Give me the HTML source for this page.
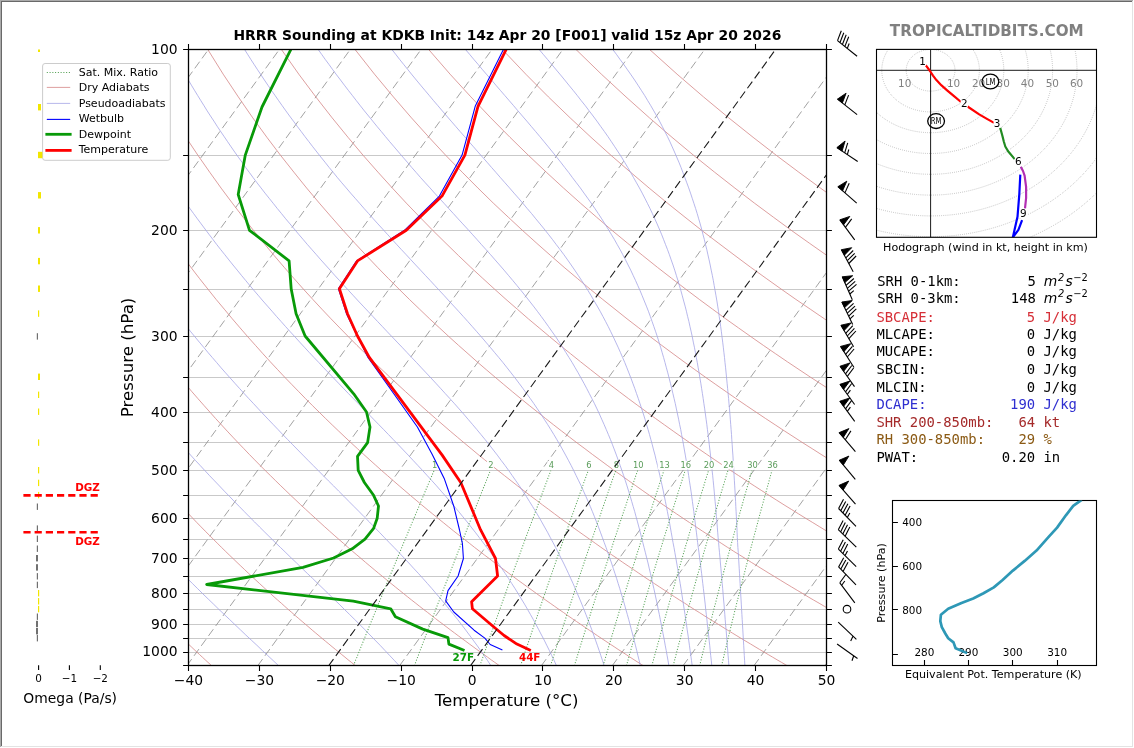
<!DOCTYPE html>
<html lang="en"><head><meta charset="utf-8"><title>HRRR Sounding at KDKB</title>
<style>html,body{margin:0;padding:0;background:#fff;}body{width:1134px;height:748px;overflow:hidden;}svg{display:block;will-change:transform;}text{font-family:"DejaVu Sans", "Liberation Sans", sans-serif;}.m{font-family:"DejaVu Sans Mono", "Liberation Mono", monospace;font-size:13.89px;}</style></head><body>
<svg width="1134" height="748" viewBox="0 0 1134 748">
<rect x="0" y="0" width="1134" height="748" fill="#ffffff"/>
<rect x="0" y="0" width="1133" height="1" fill="#aaaaaa"/>
<rect x="0" y="0" width="1" height="747" fill="#aaaaaa"/>
<rect x="1" y="1" width="1131" height="1" fill="#696969"/>
<rect x="1" y="1" width="1" height="745" fill="#696969"/>
<rect x="1132" y="1" width="1" height="746" fill="#e3e3e3"/>
<rect x="1" y="746" width="1132" height="1" fill="#e3e3e3"/>
<defs><clipPath id="cm"><rect x="188.5" y="49.5" width="638" height="616"/></clipPath>
<clipPath id="ct"><rect x="892.5" y="500.5" width="204" height="165"/></clipPath>
<clipPath id="ch"><rect x="876.5" y="49.4" width="220" height="187.9"/></clipPath>
<clipPath id="co"><rect x="20" y="49.4" width="100" height="615.4"/></clipPath>
</defs>
<g clip-path="url(#cm)" fill="none">
<line x1="188.5" y1="49.5" x2="826.5" y2="49.5" stroke="#c9c9c9" stroke-width="1"/>
<line x1="188.5" y1="155.5" x2="826.5" y2="155.5" stroke="#c9c9c9" stroke-width="1"/>
<line x1="188.5" y1="230.5" x2="826.5" y2="230.5" stroke="#c9c9c9" stroke-width="1"/>
<line x1="188.5" y1="289.5" x2="826.5" y2="289.5" stroke="#c9c9c9" stroke-width="1"/>
<line x1="188.5" y1="336.5" x2="826.5" y2="336.5" stroke="#c9c9c9" stroke-width="1"/>
<line x1="188.5" y1="377.5" x2="826.5" y2="377.5" stroke="#c9c9c9" stroke-width="1"/>
<line x1="188.5" y1="412.5" x2="826.5" y2="412.5" stroke="#c9c9c9" stroke-width="1"/>
<line x1="188.5" y1="442.5" x2="826.5" y2="442.5" stroke="#c9c9c9" stroke-width="1"/>
<line x1="188.5" y1="470.5" x2="826.5" y2="470.5" stroke="#c9c9c9" stroke-width="1"/>
<line x1="188.5" y1="495.5" x2="826.5" y2="495.5" stroke="#c9c9c9" stroke-width="1"/>
<line x1="188.5" y1="518.5" x2="826.5" y2="518.5" stroke="#c9c9c9" stroke-width="1"/>
<line x1="188.5" y1="539.5" x2="826.5" y2="539.5" stroke="#c9c9c9" stroke-width="1"/>
<line x1="188.5" y1="558.5" x2="826.5" y2="558.5" stroke="#c9c9c9" stroke-width="1"/>
<line x1="188.5" y1="576.5" x2="826.5" y2="576.5" stroke="#c9c9c9" stroke-width="1"/>
<line x1="188.5" y1="593.5" x2="826.5" y2="593.5" stroke="#c9c9c9" stroke-width="1"/>
<line x1="188.5" y1="609.5" x2="826.5" y2="609.5" stroke="#c9c9c9" stroke-width="1"/>
<line x1="188.5" y1="624.5" x2="826.5" y2="624.5" stroke="#c9c9c9" stroke-width="1"/>
<line x1="188.5" y1="638.5" x2="826.5" y2="638.5" stroke="#c9c9c9" stroke-width="1"/>
<line x1="188.5" y1="652.5" x2="826.5" y2="652.5" stroke="#c9c9c9" stroke-width="1"/>
<line x1="-593" y1="665.8" x2="-145.1" y2="48.2" stroke="#8a8a8a" stroke-width="0.8" stroke-dasharray="8.3 4"/>
<line x1="-522.1" y1="665.8" x2="-74.2" y2="48.2" stroke="#8a8a8a" stroke-width="0.8" stroke-dasharray="8.3 4"/>
<line x1="-451.2" y1="665.8" x2="-3.3" y2="48.2" stroke="#8a8a8a" stroke-width="0.8" stroke-dasharray="8.3 4"/>
<line x1="-380.3" y1="665.8" x2="67.6" y2="48.2" stroke="#8a8a8a" stroke-width="0.8" stroke-dasharray="8.3 4"/>
<line x1="-309.4" y1="665.8" x2="138.5" y2="48.2" stroke="#8a8a8a" stroke-width="0.8" stroke-dasharray="8.3 4"/>
<line x1="-238.5" y1="665.8" x2="209.4" y2="48.2" stroke="#8a8a8a" stroke-width="0.8" stroke-dasharray="8.3 4"/>
<line x1="-167.6" y1="665.8" x2="280.3" y2="48.2" stroke="#8a8a8a" stroke-width="0.8" stroke-dasharray="8.3 4"/>
<line x1="-96.7" y1="665.8" x2="351.2" y2="48.2" stroke="#8a8a8a" stroke-width="0.8" stroke-dasharray="8.3 4"/>
<line x1="-25.8" y1="665.8" x2="422" y2="48.2" stroke="#8a8a8a" stroke-width="0.8" stroke-dasharray="8.3 4"/>
<line x1="45" y1="665.8" x2="492.9" y2="48.2" stroke="#8a8a8a" stroke-width="0.8" stroke-dasharray="8.3 4"/>
<line x1="115.9" y1="665.8" x2="563.8" y2="48.2" stroke="#8a8a8a" stroke-width="0.8" stroke-dasharray="8.3 4"/>
<line x1="186.8" y1="665.8" x2="634.7" y2="48.2" stroke="#8a8a8a" stroke-width="0.8" stroke-dasharray="8.3 4"/>
<line x1="257.7" y1="665.8" x2="705.6" y2="48.2" stroke="#8a8a8a" stroke-width="0.8" stroke-dasharray="8.3 4"/>
<line x1="399.5" y1="665.8" x2="847.4" y2="48.2" stroke="#8a8a8a" stroke-width="0.8" stroke-dasharray="8.3 4"/>
<line x1="541.3" y1="665.8" x2="989.2" y2="48.2" stroke="#8a8a8a" stroke-width="0.8" stroke-dasharray="8.3 4"/>
<line x1="612.2" y1="665.8" x2="1060" y2="48.2" stroke="#8a8a8a" stroke-width="0.8" stroke-dasharray="8.3 4"/>
<line x1="683" y1="665.8" x2="1130.9" y2="48.2" stroke="#8a8a8a" stroke-width="0.8" stroke-dasharray="8.3 4"/>
<line x1="753.9" y1="665.8" x2="1201.8" y2="48.2" stroke="#8a8a8a" stroke-width="0.8" stroke-dasharray="8.3 4"/>
<line x1="824.8" y1="665.8" x2="1272.7" y2="48.2" stroke="#8a8a8a" stroke-width="0.8" stroke-dasharray="8.3 4"/>
<path d="M211.8 665.8 L210.7 664.8 L207.9 662.3 L205.2 659.8 L202.4 657.2 L199.6 654.6 L196.8 652 L194 649.4 L191.2 646.7 L188.3 644 L185.5 641.3 L182.6 638.6 L179.7 635.8 L176.8 633 L173.9 630.2 L171 627.3 L168 624.4 L165 621.5 L162 618.6 L159 615.6 L156 612.5 L153 609.5 L149.9 606.4 L146.8 603.2 L143.7 600.1 L140.6 596.9 L137.5 593.6 L134.3 590.3 L131.2 587 L128 583.6 L124.7 580.2 L121.5 576.7 L118.3 573.2 L115 569.6 L111.7 566 L108.3 562.4 L105 558.6 L101.6 554.9 L98.2 551.1 L94.8 547.2 L91.4 543.2 L87.9 539.2 L84.4 535.2 L80.9 531.1 L77.3 526.9 L73.8 522.6 L70.2 518.3 L66.5 513.9 L62.9 509.4 L59.2 504.9 L55.5 500.2 L51.7 495.5 L48 490.7 L44.1 485.8 L40.3 480.8 L36.4 475.7 L32.5 470.6 L28.6 465.3 L24.6 459.9 L20.6 454.4 L16.5 448.7 L12.4 443 L8.3 437.1 L4.1 431.1 L-0.1 424.9 L-4.3 418.6 L-8.6 412.1 L-12.9 405.5 L-17.3 398.7 L-21.7 391.7 L-26.2 384.5 L-30.7 377.2 L-35.3 369.6 L-39.9 361.8 L-44.6 353.7 L-49.3 345.4 L-54.1 336.8 L-58.9 327.9 L-63.8 318.8 L-68.7 309.2 L-73.7 299.4 L-78.8 289.1 L-83.9 278.4 L-89.1 267.3 L-94.3 255.6 L-99.6 243.4 L-105 230.7 L-110.4 217.2 L-115.9 203.1 L-121.4 188.1 L-126.9 172.2 L-132.5 155.4 L-138.2 137.3 L-143.8 117.9 L-149.4 96.9 L-155 74.2 L-160.5 49.2 L-160.8 47.9" stroke="#d48686" stroke-width="0.8"/>
<path d="M355.7 665.8 L354.4 664.8 L351.3 662.3 L348.1 659.8 L345 657.2 L341.8 654.6 L338.6 652 L335.4 649.4 L332.1 646.7 L328.9 644 L325.6 641.3 L322.3 638.6 L319 635.8 L315.7 633 L312.3 630.2 L309 627.3 L305.6 624.4 L302.2 621.5 L298.8 618.6 L295.3 615.6 L291.8 612.5 L288.3 609.5 L284.8 606.4 L281.3 603.2 L277.7 600.1 L274.1 596.9 L270.5 593.6 L266.9 590.3 L263.3 587 L259.6 583.6 L255.9 580.2 L252.1 576.7 L248.4 573.2 L244.6 569.6 L240.8 566 L237 562.4 L233.1 558.6 L229.2 554.9 L225.3 551.1 L221.3 547.2 L217.3 543.2 L213.3 539.2 L209.3 535.2 L205.2 531.1 L201.1 526.9 L196.9 522.6 L192.8 518.3 L188.6 513.9 L184.3 509.4 L180 504.9 L175.7 500.2 L171.3 495.5 L166.9 490.7 L162.5 485.8 L158 480.8 L153.5 475.7 L148.9 470.6 L144.3 465.3 L139.7 459.9 L134.9 454.4 L130.2 448.7 L125.4 443 L120.6 437.1 L115.7 431.1 L110.7 424.9 L105.7 418.6 L100.6 412.1 L95.5 405.5 L90.3 398.7 L85.1 391.7 L79.8 384.5 L74.4 377.2 L69 369.6 L63.5 361.8 L57.9 353.7 L52.3 345.4 L46.6 336.8 L40.8 327.9 L34.9 318.8 L28.9 309.2 L22.9 299.4 L16.8 289.1 L10.5 278.4 L4.2 267.3 L-2.2 255.6 L-8.7 243.4 L-15.3 230.7 L-22 217.2 L-28.8 203.1 L-35.8 188.1 L-42.8 172.2 L-49.9 155.4 L-57.2 137.3 L-64.5 117.9 L-71.9 96.9 L-79.4 74.2 L-86.9 49.2 L-87.3 47.9" stroke="#d48686" stroke-width="0.8"/>
<path d="M499.6 665.8 L498.2 664.8 L494.7 662.3 L491.1 659.8 L487.6 657.2 L484 654.6 L480.4 652 L476.8 649.4 L473.1 646.7 L469.4 644 L465.8 641.3 L462.1 638.6 L458.3 635.8 L454.6 633 L450.8 630.2 L447 627.3 L443.2 624.4 L439.3 621.5 L435.5 618.6 L431.6 615.6 L427.7 612.5 L423.7 609.5 L419.7 606.4 L415.7 603.2 L411.7 600.1 L407.7 596.9 L403.6 593.6 L399.5 590.3 L395.4 587 L391.2 583.6 L387 580.2 L382.8 576.7 L378.5 573.2 L374.2 569.6 L369.9 566 L365.6 562.4 L361.2 558.6 L356.8 554.9 L352.3 551.1 L347.8 547.2 L343.3 543.2 L338.7 539.2 L334.1 535.2 L329.5 531.1 L324.8 526.9 L320.1 522.6 L315.4 518.3 L310.6 513.9 L305.7 509.4 L300.8 504.9 L295.9 500.2 L290.9 495.5 L285.9 490.7 L280.8 485.8 L275.7 480.8 L270.5 475.7 L265.3 470.6 L260 465.3 L254.7 459.9 L249.3 454.4 L243.9 448.7 L238.4 443 L232.8 437.1 L227.2 431.1 L221.5 424.9 L215.7 418.6 L209.9 412.1 L204 405.5 L198 398.7 L191.9 391.7 L185.8 384.5 L179.6 377.2 L173.3 369.6 L166.9 361.8 L160.4 353.7 L153.9 345.4 L147.2 336.8 L140.4 327.9 L133.6 318.8 L126.6 309.2 L119.5 299.4 L112.3 289.1 L105 278.4 L97.5 267.3 L90 255.6 L82.2 243.4 L74.4 230.7 L66.4 217.2 L58.2 203.1 L49.9 188.1 L41.4 172.2 L32.7 155.4 L23.9 137.3 L14.8 117.9 L5.6 96.9 L-3.7 74.2 L-13.3 49.2 L-13.8 47.9" stroke="#d48686" stroke-width="0.8"/>
<path d="M643.5 665.8 L641.9 664.8 L638 662.3 L634.1 659.8 L630.1 657.2 L626.2 654.6 L622.2 652 L618.1 649.4 L614.1 646.7 L610 644 L605.9 641.3 L601.8 638.6 L597.6 635.8 L593.5 633 L589.3 630.2 L585 627.3 L580.8 624.4 L576.5 621.5 L572.2 618.6 L567.8 615.6 L563.5 612.5 L559.1 609.5 L554.7 606.4 L550.2 603.2 L545.7 600.1 L541.2 596.9 L536.6 593.6 L532.1 590.3 L527.5 587 L522.8 583.6 L518.1 580.2 L513.4 576.7 L508.7 573.2 L503.9 569.6 L499 566 L494.2 562.4 L489.3 558.6 L484.3 554.9 L479.4 551.1 L474.3 547.2 L469.3 543.2 L464.2 539.2 L459 535.2 L453.8 531.1 L448.6 526.9 L443.3 522.6 L438 518.3 L432.6 513.9 L427.1 509.4 L421.7 504.9 L416.1 500.2 L410.5 495.5 L404.9 490.7 L399.2 485.8 L393.4 480.8 L387.6 475.7 L381.7 470.6 L375.8 465.3 L369.8 459.9 L363.7 454.4 L357.5 448.7 L351.3 443 L345 437.1 L338.7 431.1 L332.2 424.9 L325.7 418.6 L319.1 412.1 L312.4 405.5 L305.6 398.7 L298.8 391.7 L291.8 384.5 L284.7 377.2 L277.6 369.6 L270.3 361.8 L262.9 353.7 L255.5 345.4 L247.8 336.8 L240.1 327.9 L232.3 318.8 L224.3 309.2 L216.1 299.4 L207.9 289.1 L199.4 278.4 L190.9 267.3 L182.1 255.6 L173.2 243.4 L164.1 230.7 L154.7 217.2 L145.2 203.1 L135.5 188.1 L125.5 172.2 L115.3 155.4 L104.9 137.3 L94.2 117.9 L83.2 96.9 L71.9 74.2 L60.3 49.2 L59.7 47.9" stroke="#d48686" stroke-width="0.8"/>
<path d="M787.4 665.8 L785.7 664.8 L781.4 662.3 L777.1 659.8 L772.7 657.2 L768.3 654.6 L763.9 652 L759.5 649.4 L755 646.7 L750.6 644 L746 641.3 L741.5 638.6 L736.9 635.8 L732.3 633 L727.7 630.2 L723 627.3 L718.4 624.4 L713.6 621.5 L708.9 618.6 L704.1 615.6 L699.3 612.5 L694.4 609.5 L689.6 606.4 L684.7 603.2 L679.7 600.1 L674.7 596.9 L669.7 593.6 L664.6 590.3 L659.6 587 L654.4 583.6 L649.2 580.2 L644 576.7 L638.8 573.2 L633.5 569.6 L628.2 566 L622.8 562.4 L617.4 558.6 L611.9 554.9 L606.4 551.1 L600.8 547.2 L595.2 543.2 L589.6 539.2 L583.9 535.2 L578.1 531.1 L572.3 526.9 L566.5 522.6 L560.5 518.3 L554.6 513.9 L548.6 509.4 L542.5 504.9 L536.3 500.2 L530.1 495.5 L523.8 490.7 L517.5 485.8 L511.1 480.8 L504.6 475.7 L498.1 470.6 L491.5 465.3 L484.8 459.9 L478 454.4 L471.2 448.7 L464.3 443 L457.3 437.1 L450.2 431.1 L443 424.9 L435.7 418.6 L428.3 412.1 L420.9 405.5 L413.3 398.7 L405.6 391.7 L397.8 384.5 L389.9 377.2 L381.9 369.6 L373.7 361.8 L365.5 353.7 L357 345.4 L348.5 336.8 L339.8 327.9 L331 318.8 L321.9 309.2 L312.8 299.4 L303.4 289.1 L293.9 278.4 L284.2 267.3 L274.2 255.6 L264.1 243.4 L253.7 230.7 L243.1 217.2 L232.3 203.1 L221.1 188.1 L209.7 172.2 L198 155.4 L185.9 137.3 L173.5 117.9 L160.7 96.9 L147.5 74.2 L133.9 49.2 L133.3 47.9" stroke="#d48686" stroke-width="0.8"/>
<path d="M931.3 665.8 L929.5 664.8 L924.8 662.3 L920 659.8 L915.3 657.2 L910.5 654.6 L905.7 652 L900.9 649.4 L896 646.7 L891.1 644 L886.2 641.3 L881.2 638.6 L876.2 635.8 L871.2 633 L866.2 630.2 L861.1 627.3 L855.9 624.4 L850.8 621.5 L845.6 618.6 L840.4 615.6 L835.1 612.5 L829.8 609.5 L824.5 606.4 L819.1 603.2 L813.7 600.1 L808.2 596.9 L802.8 593.6 L797.2 590.3 L791.7 587 L786 583.6 L780.4 580.2 L774.7 576.7 L768.9 573.2 L763.1 569.6 L757.3 566 L751.4 562.4 L745.5 558.6 L739.5 554.9 L733.4 551.1 L727.3 547.2 L721.2 543.2 L715 539.2 L708.7 535.2 L702.4 531.1 L696.1 526.9 L689.6 522.6 L683.1 518.3 L676.6 513.9 L670 509.4 L663.3 504.9 L656.5 500.2 L649.7 495.5 L642.8 490.7 L635.9 485.8 L628.8 480.8 L621.7 475.7 L614.5 470.6 L607.2 465.3 L599.9 459.9 L592.4 454.4 L584.9 448.7 L577.2 443 L569.5 437.1 L561.7 431.1 L553.7 424.9 L545.7 418.6 L537.6 412.1 L529.3 405.5 L520.9 398.7 L512.4 391.7 L503.8 384.5 L495.1 377.2 L486.2 369.6 L477.1 361.8 L468 353.7 L458.6 345.4 L449.1 336.8 L439.5 327.9 L429.6 318.8 L419.6 309.2 L409.4 299.4 L399 289.1 L388.3 278.4 L377.5 267.3 L366.4 255.6 L355 243.4 L343.4 230.7 L331.5 217.2 L319.3 203.1 L306.7 188.1 L293.9 172.2 L280.6 155.4 L266.9 137.3 L252.8 117.9 L238.3 96.9 L223.2 74.2 L207.6 49.2 L206.8 47.9" stroke="#d48686" stroke-width="0.8"/>
<path d="M1075.3 665.8 L1073.2 664.8 L1068.1 662.3 L1063 659.8 L1057.9 657.2 L1052.7 654.6 L1047.5 652 L1042.2 649.4 L1037 646.7 L1031.7 644 L1026.3 641.3 L1020.9 638.6 L1015.5 635.8 L1010.1 633 L1004.6 630.2 L999.1 627.3 L993.5 624.4 L987.9 621.5 L982.3 618.6 L976.6 615.6 L970.9 612.5 L965.2 609.5 L959.4 606.4 L953.6 603.2 L947.7 600.1 L941.8 596.9 L935.8 593.6 L929.8 590.3 L923.7 587 L917.6 583.6 L911.5 580.2 L905.3 576.7 L899.1 573.2 L892.8 569.6 L886.4 566 L880 562.4 L873.6 558.6 L867 554.9 L860.5 551.1 L853.8 547.2 L847.2 543.2 L840.4 539.2 L833.6 535.2 L826.7 531.1 L819.8 526.9 L812.8 522.6 L805.7 518.3 L798.6 513.9 L791.4 509.4 L784.1 504.9 L776.7 500.2 L769.3 495.5 L761.8 490.7 L754.2 485.8 L746.5 480.8 L738.7 475.7 L730.9 470.6 L722.9 465.3 L714.9 459.9 L706.8 454.4 L698.5 448.7 L690.2 443 L681.7 437.1 L673.2 431.1 L664.5 424.9 L655.7 418.6 L646.8 412.1 L637.8 405.5 L628.6 398.7 L619.3 391.7 L609.8 384.5 L600.2 377.2 L590.5 369.6 L580.6 361.8 L570.5 353.7 L560.2 345.4 L549.8 336.8 L539.2 327.9 L528.3 318.8 L517.3 309.2 L506 299.4 L494.5 289.1 L482.8 278.4 L470.8 267.3 L458.5 255.6 L446 243.4 L433.1 230.7 L419.9 217.2 L406.3 203.1 L392.4 188.1 L378 172.2 L363.2 155.4 L348 137.3 L332.2 117.9 L315.8 96.9 L298.8 74.2 L281.2 49.2 L280.3 47.9" stroke="#d48686" stroke-width="0.8"/>
<path d="M1219.2 665.8 L1217 664.8 L1211.5 662.3 L1206 659.8 L1200.5 657.2 L1194.9 654.6 L1189.3 652 L1183.6 649.4 L1177.9 646.7 L1172.2 644 L1166.5 641.3 L1160.7 638.6 L1154.8 635.8 L1149 633 L1143.1 630.2 L1137.1 627.3 L1131.1 624.4 L1125.1 621.5 L1119 618.6 L1112.9 615.6 L1106.8 612.5 L1100.6 609.5 L1094.3 606.4 L1088 603.2 L1081.7 600.1 L1075.3 596.9 L1068.9 593.6 L1062.4 590.3 L1055.8 587 L1049.3 583.6 L1042.6 580.2 L1035.9 576.7 L1029.2 573.2 L1022.4 569.6 L1015.5 566 L1008.6 562.4 L1001.6 558.6 L994.6 554.9 L987.5 551.1 L980.4 547.2 L973.1 543.2 L965.8 539.2 L958.5 535.2 L951.1 531.1 L943.6 526.9 L936 522.6 L928.3 518.3 L920.6 513.9 L912.8 509.4 L904.9 504.9 L897 500.2 L888.9 495.5 L880.8 490.7 L872.5 485.8 L864.2 480.8 L855.8 475.7 L847.3 470.6 L838.7 465.3 L830 459.9 L821.1 454.4 L812.2 448.7 L803.1 443 L794 437.1 L784.7 431.1 L775.3 424.9 L765.7 418.6 L756 412.1 L746.2 405.5 L736.2 398.7 L726.1 391.7 L715.8 384.5 L705.4 377.2 L694.8 369.6 L684 361.8 L673 353.7 L661.8 345.4 L650.4 336.8 L638.8 327.9 L627 318.8 L615 309.2 L602.7 299.4 L590.1 289.1 L577.3 278.4 L564.1 267.3 L550.7 255.6 L536.9 243.4 L522.8 230.7 L508.3 217.2 L493.3 203.1 L478 188.1 L462.2 172.2 L445.8 155.4 L429 137.3 L411.5 117.9 L393.4 96.9 L374.5 74.2 L354.8 49.2 L353.8 47.9" stroke="#d48686" stroke-width="0.8"/>
<path d="M1363.1 665.8 L1360.7 664.8 L1354.9 662.3 L1349 659.8 L1343 657.2 L1337.1 654.6 L1331 652 L1325 649.4 L1318.9 646.7 L1312.8 644 L1306.6 641.3 L1300.4 638.6 L1294.1 635.8 L1287.8 633 L1281.5 630.2 L1275.1 627.3 L1268.7 624.4 L1262.3 621.5 L1255.7 618.6 L1249.2 615.6 L1242.6 612.5 L1235.9 609.5 L1229.2 606.4 L1222.5 603.2 L1215.7 600.1 L1208.8 596.9 L1201.9 593.6 L1195 590.3 L1187.9 587 L1180.9 583.6 L1173.8 580.2 L1166.6 576.7 L1159.3 573.2 L1152 569.6 L1144.7 566 L1137.2 562.4 L1129.7 558.6 L1122.2 554.9 L1114.6 551.1 L1106.9 547.2 L1099.1 543.2 L1091.3 539.2 L1083.3 535.2 L1075.4 531.1 L1067.3 526.9 L1059.2 522.6 L1050.9 518.3 L1042.6 513.9 L1034.2 509.4 L1025.7 504.9 L1017.2 500.2 L1008.5 495.5 L999.7 490.7 L990.9 485.8 L981.9 480.8 L972.9 475.7 L963.7 470.6 L954.4 465.3 L945 459.9 L935.5 454.4 L925.9 448.7 L916.1 443 L906.2 437.1 L896.2 431.1 L886 424.9 L875.7 418.6 L865.3 412.1 L854.7 405.5 L843.9 398.7 L832.9 391.7 L821.8 384.5 L810.5 377.2 L799.1 369.6 L787.4 361.8 L775.5 353.7 L763.4 345.4 L751.1 336.8 L738.5 327.9 L725.7 318.8 L712.6 309.2 L699.3 299.4 L685.7 289.1 L671.7 278.4 L657.4 267.3 L642.8 255.6 L627.8 243.4 L612.4 230.7 L596.6 217.2 L580.4 203.1 L563.6 188.1 L546.3 172.2 L528.5 155.4 L510 137.3 L490.8 117.9 L470.9 96.9 L450.1 74.2 L428.4 49.2 L427.3 47.9" stroke="#d48686" stroke-width="0.8"/>
<path d="M1507 665.8 L1504.5 664.8 L1498.2 662.3 L1492 659.8 L1485.6 657.2 L1479.2 654.6 L1472.8 652 L1466.4 649.4 L1459.9 646.7 L1453.3 644 L1446.7 641.3 L1440.1 638.6 L1433.4 635.8 L1426.7 633 L1420 630.2 L1413.2 627.3 L1406.3 624.4 L1399.4 621.5 L1392.5 618.6 L1385.5 615.6 L1378.4 612.5 L1371.3 609.5 L1364.1 606.4 L1356.9 603.2 L1349.7 600.1 L1342.3 596.9 L1335 593.6 L1327.5 590.3 L1320 587 L1312.5 583.6 L1304.9 580.2 L1297.2 576.7 L1289.5 573.2 L1281.7 569.6 L1273.8 566 L1265.8 562.4 L1257.8 558.6 L1249.7 554.9 L1241.6 551.1 L1233.4 547.2 L1225.1 543.2 L1216.7 539.2 L1208.2 535.2 L1199.7 531.1 L1191 526.9 L1182.3 522.6 L1173.5 518.3 L1164.6 513.9 L1155.6 509.4 L1146.6 504.9 L1137.4 500.2 L1128.1 495.5 L1118.7 490.7 L1109.2 485.8 L1099.6 480.8 L1089.9 475.7 L1080.1 470.6 L1070.1 465.3 L1060.1 459.9 L1049.9 454.4 L1039.5 448.7 L1029.1 443 L1018.4 437.1 L1007.7 431.1 L996.8 424.9 L985.7 418.6 L974.5 412.1 L963.1 405.5 L951.5 398.7 L939.8 391.7 L927.8 384.5 L915.7 377.2 L903.4 369.6 L890.8 361.8 L878 353.7 L865 345.4 L851.7 336.8 L838.2 327.9 L824.4 318.8 L810.3 309.2 L795.9 299.4 L781.2 289.1 L766.2 278.4 L750.7 267.3 L735 255.6 L718.8 243.4 L702.1 230.7 L685 217.2 L667.4 203.1 L649.2 188.1 L630.5 172.2 L611.1 155.4 L591 137.3 L570.2 117.9 L548.4 96.9 L525.8 74.2 L502.1 49.2 L500.8 47.9" stroke="#d48686" stroke-width="0.8"/>
<path d="M1650.9 665.8 L1648.3 664.8 L1641.6 662.3 L1634.9 659.8 L1628.2 657.2 L1621.4 654.6 L1614.6 652 L1607.7 649.4 L1600.8 646.7 L1593.9 644 L1586.9 641.3 L1579.8 638.6 L1572.7 635.8 L1565.6 633 L1558.4 630.2 L1551.2 627.3 L1543.9 624.4 L1536.6 621.5 L1529.2 618.6 L1521.7 615.6 L1514.2 612.5 L1506.7 609.5 L1499.1 606.4 L1491.4 603.2 L1483.7 600.1 L1475.9 596.9 L1468 593.6 L1460.1 590.3 L1452.1 587 L1444.1 583.6 L1436 580.2 L1427.8 576.7 L1419.6 573.2 L1411.3 569.6 L1402.9 566 L1394.5 562.4 L1385.9 558.6 L1377.3 554.9 L1368.6 551.1 L1359.9 547.2 L1351 543.2 L1342.1 539.2 L1333.1 535.2 L1324 531.1 L1314.8 526.9 L1305.5 522.6 L1296.1 518.3 L1286.6 513.9 L1277.1 509.4 L1267.4 504.9 L1257.6 500.2 L1247.7 495.5 L1237.7 490.7 L1227.6 485.8 L1217.3 480.8 L1207 475.7 L1196.5 470.6 L1185.9 465.3 L1175.1 459.9 L1164.2 454.4 L1153.2 448.7 L1142 443 L1130.7 437.1 L1119.2 431.1 L1107.5 424.9 L1095.7 418.6 L1083.7 412.1 L1071.5 405.5 L1059.2 398.7 L1046.6 391.7 L1033.8 384.5 L1020.9 377.2 L1007.7 369.6 L994.2 361.8 L980.5 353.7 L966.6 345.4 L952.4 336.8 L937.9 327.9 L923.1 318.8 L908 309.2 L892.6 299.4 L876.8 289.1 L860.6 278.4 L844.1 267.3 L827.1 255.6 L809.7 243.4 L791.8 230.7 L773.4 217.2 L754.4 203.1 L734.9 188.1 L714.6 172.2 L693.7 155.4 L672 137.3 L649.5 117.9 L626 96.9 L601.4 74.2 L575.7 49.2 L574.4 47.9" stroke="#d48686" stroke-width="0.8"/>
<path d="M1794.8 665.8 L1792 664.8 L1785 662.3 L1777.9 659.8 L1770.8 657.2 L1763.6 654.6 L1756.4 652 L1749.1 649.4 L1741.8 646.7 L1734.4 644 L1727 641.3 L1719.6 638.6 L1712.1 635.8 L1704.5 633 L1696.9 630.2 L1689.2 627.3 L1681.5 624.4 L1673.7 621.5 L1665.9 618.6 L1658 615.6 L1650 612.5 L1642 609.5 L1634 606.4 L1625.8 603.2 L1617.7 600.1 L1609.4 596.9 L1601.1 593.6 L1592.7 590.3 L1584.2 587 L1575.7 583.6 L1567.1 580.2 L1558.5 576.7 L1549.7 573.2 L1540.9 569.6 L1532 566 L1523.1 562.4 L1514 558.6 L1504.9 554.9 L1495.7 551.1 L1486.4 547.2 L1477 543.2 L1467.5 539.2 L1457.9 535.2 L1448.3 531.1 L1438.5 526.9 L1428.7 522.6 L1418.7 518.3 L1408.6 513.9 L1398.5 509.4 L1388.2 504.9 L1377.8 500.2 L1367.3 495.5 L1356.7 490.7 L1345.9 485.8 L1335 480.8 L1324 475.7 L1312.9 470.6 L1301.6 465.3 L1290.2 459.9 L1278.6 454.4 L1266.9 448.7 L1255 443 L1242.9 437.1 L1230.7 431.1 L1218.3 424.9 L1205.7 418.6 L1193 412.1 L1180 405.5 L1166.8 398.7 L1153.5 391.7 L1139.9 384.5 L1126 377.2 L1111.9 369.6 L1097.6 361.8 L1083 353.7 L1068.2 345.4 L1053 336.8 L1037.6 327.9 L1021.8 318.8 L1005.7 309.2 L989.2 299.4 L972.3 289.1 L955.1 278.4 L937.4 267.3 L919.2 255.6 L900.6 243.4 L881.5 230.7 L861.8 217.2 L841.4 203.1 L820.5 188.1 L798.8 172.2 L776.4 155.4 L753.1 137.3 L728.8 117.9 L703.5 96.9 L677.1 74.2 L649.3 49.2 L647.9 47.9" stroke="#d48686" stroke-width="0.8"/>
<path d="M-123.7 49.2 L-122.5 54.3 L-121.3 59.5 L-120.1 64.6 L-118.8 69.8 L-117.5 74.9 L-116.2 80 L-114.9 85.2 L-113.5 90.3 L-112.1 95.4 L-110.6 100.6 L-109.2 105.7 L-107.7 110.9 L-106.1 116 L-104.6 121.1 L-103 126.3 L-101.4 131.4 L-99.7 136.5 L-98 141.7 L-96.3 146.8 L-94.6 152 L-92.8 157.1 L-91 162.2 L-89.2 167.4 L-87.3 172.5 L-85.4 177.7 L-83.4 182.8 L-81.3 187.9 L-79.2 193.1 L-77.1 198.2 L-74.9 203.3 L-72.7 208.5 L-70.4 213.6 L-68.2 218.8 L-65.9 223.9 L-63.5 229 L-61.1 234.2 L-58.7 239.3 L-56.3 244.5 L-53.8 249.6 L-51.3 254.7 L-48.7 259.9 L-46.1 265 L-43.5 270.1 L-40.9 275.3 L-38.2 280.4 L-35.5 285.6 L-32.7 290.7 L-29.9 295.8 L-27.1 301 L-24.2 306.1 L-21.3 311.2 L-18.3 316.4 L-15.3 321.5 L-12.3 326.7 L-9.3 331.8 L-6.2 336.9 L-3 342.1 L0.2 347.2 L3.4 352.4 L6.6 357.5 L9.9 362.6 L13.2 367.8 L16.6 372.9 L20 378 L23.5 383.2 L27 388.3 L30.6 393.5 L34.2 398.6 L37.8 403.7 L41.5 408.9 L45.2 414 L49 419.2 L52.8 424.3 L56.6 429.4 L60.5 434.6 L64.5 439.7 L68.4 444.8 L72.5 450 L76.5 455.1 L80.6 460.3 L84.8 465.4 L88.9 470.5 L93.2 475.7 L97.4 480.8 L101.8 485.9 L106.1 491.1 L110.5 496.2 L115 501.4 L119.4 506.5 L124 511.6 L128.5 516.8 L133.2 521.9 L137.8 527.1 L142.5 532.2 L147.3 537.3 L152.1 542.5 L157 547.6 L162 552.7 L166.9 557.9 L172 563 L177 568.2 L182.1 573.3 L187.3 578.4 L192.5 583.6 L197.7 588.7 L202.9 593.9 L208.2 599 L213.5 604.1 L218.8 609.3 L224.2 614.4 L229.6 619.5 L235 624.7 L240.4 629.8 L245.8 635 L251.3 640.1 L256.8 645.2 L262.2 650.4 L267.7 655.5 L273.2 660.6 L278.7 665.8" stroke="#a4a4e6" stroke-width="0.8"/>
<path d="M-50.1 49.2 L-48.5 54.3 L-46.9 59.5 L-45.2 64.6 L-43.6 69.8 L-41.8 74.9 L-40.1 80 L-38.3 85.2 L-36.5 90.3 L-34.7 95.4 L-32.8 100.6 L-30.9 105.7 L-28.9 110.9 L-27 116 L-25 121.1 L-22.9 126.3 L-20.9 131.4 L-18.8 136.5 L-16.6 141.7 L-14.5 146.8 L-12.3 152 L-10 157.1 L-7.8 162.2 L-5.5 167.4 L-3.1 172.5 L-0.7 177.7 L1.7 182.8 L4.3 187.9 L6.9 193.1 L9.5 198.2 L12.2 203.3 L14.9 208.5 L17.6 213.6 L20.4 218.8 L23.2 223.9 L26 229 L28.9 234.2 L31.8 239.3 L34.8 244.5 L37.7 249.6 L40.8 254.7 L43.8 259.9 L46.9 265 L50.1 270.1 L53.3 275.3 L56.5 280.4 L59.7 285.6 L63 290.7 L66.4 295.8 L69.7 301 L73.2 306.1 L76.6 311.2 L80.1 316.4 L83.6 321.5 L87.2 326.7 L90.8 331.8 L94.5 336.9 L98.2 342.1 L101.9 347.2 L105.7 352.4 L109.5 357.5 L113.4 362.6 L117.3 367.8 L121.3 372.9 L125.2 378 L129.3 383.2 L133.4 388.3 L137.6 393.5 L141.7 398.6 L146 403.7 L150.3 408.9 L154.6 414 L158.9 419.2 L163.3 424.3 L167.8 429.4 L172.3 434.6 L176.8 439.7 L181.4 444.8 L186 450 L190.6 455.1 L195.3 460.3 L200.1 465.4 L204.8 470.5 L209.6 475.7 L214.5 480.8 L219.4 485.9 L224.3 491.1 L229.3 496.2 L234.3 501.4 L239.3 506.5 L244.3 511.6 L249.4 516.8 L254.5 521.9 L259.7 527.1 L264.8 532.2 L270 537.3 L275.3 542.5 L280.6 547.6 L285.9 552.7 L291.2 557.9 L296.6 563 L301.9 568.2 L307.2 573.3 L312.6 578.4 L317.9 583.6 L323.2 588.7 L328.5 593.9 L333.8 599 L339.1 604.1 L344.3 609.3 L349.5 614.4 L354.7 619.5 L359.9 624.7 L365 629.8 L370 635 L375 640.1 L380 645.2 L384.9 650.4 L389.7 655.5 L394.5 660.6 L399.3 665.8" stroke="#a4a4e6" stroke-width="0.8"/>
<path d="M23.5 49.2 L25.5 54.3 L27.6 59.5 L29.6 64.6 L31.7 69.8 L33.9 74.9 L36 80 L38.3 85.2 L40.5 90.3 L42.8 95.4 L45.1 100.6 L47.4 105.7 L49.8 110.9 L52.2 116 L54.6 121.1 L57.1 126.3 L59.6 131.4 L62.2 136.5 L64.8 141.7 L67.4 146.8 L70.1 152 L72.8 157.1 L75.5 162.2 L78.3 167.4 L81.1 172.5 L83.9 177.7 L86.9 182.8 L89.9 187.9 L93 193.1 L96.1 198.2 L99.2 203.3 L102.4 208.5 L105.6 213.6 L108.9 218.8 L112.2 223.9 L115.5 229 L118.9 234.2 L122.3 239.3 L125.8 244.5 L129.3 249.6 L132.8 254.7 L136.4 259.9 L140 265 L143.7 270.1 L147.4 275.3 L151.1 280.4 L154.9 285.6 L158.7 290.7 L162.6 295.8 L166.5 301 L170.5 306.1 L174.5 311.2 L178.5 316.4 L182.6 321.5 L186.7 326.7 L190.8 331.8 L195 336.9 L199.3 342.1 L203.6 347.2 L207.9 352.4 L212.3 357.5 L216.7 362.6 L221.1 367.8 L225.6 372.9 L230.2 378 L234.8 383.2 L239.4 388.3 L244.1 393.5 L248.8 398.6 L253.6 403.7 L258.4 408.9 L263.2 414 L268.1 419.2 L273 424.3 L277.9 429.4 L282.8 434.6 L287.8 439.7 L292.8 444.8 L297.9 450 L302.9 455.1 L308 460.3 L313.1 465.4 L318.2 470.5 L323.3 475.7 L328.4 480.8 L333.6 485.9 L338.7 491.1 L343.8 496.2 L348.9 501.4 L354 506.5 L359.1 511.6 L364.2 516.8 L369.3 521.9 L374.3 527.1 L379.3 532.2 L384.2 537.3 L389.2 542.5 L394.2 547.6 L399.1 552.7 L404 557.9 L408.8 563 L413.5 568.2 L418.3 573.3 L422.9 578.4 L427.5 583.6 L432 588.7 L436.4 593.9 L440.8 599 L445.1 604.1 L449.3 609.3 L453.5 614.4 L457.6 619.5 L461.6 624.7 L465.5 629.8 L469.4 635 L473.1 640.1 L476.9 645.2 L480.5 650.4 L484.1 655.5 L487.6 660.6 L491 665.8" stroke="#a4a4e6" stroke-width="0.8"/>
<path d="M97.1 49.2 L99.6 54.3 L102 59.5 L104.5 64.6 L107 69.8 L109.6 74.9 L112.2 80 L114.8 85.2 L117.5 90.3 L120.2 95.4 L122.9 100.6 L125.7 105.7 L128.5 110.9 L131.4 116 L134.3 121.1 L137.2 126.3 L140.1 131.4 L143.1 136.5 L146.2 141.7 L149.3 146.8 L152.4 152 L155.5 157.1 L158.7 162.2 L162 167.4 L165.2 172.5 L168.6 177.7 L172 182.8 L175.5 187.9 L179 193.1 L182.6 198.2 L186.2 203.3 L189.9 208.5 L193.6 213.6 L197.4 218.8 L201.2 223.9 L205 229 L208.9 234.2 L212.8 239.3 L216.7 244.5 L220.7 249.6 L224.8 254.7 L228.9 259.9 L233 265 L237.2 270.1 L241.4 275.3 L245.6 280.4 L249.9 285.6 L254.2 290.7 L258.6 295.8 L263 301 L267.5 306.1 L272 311.2 L276.5 316.4 L281.1 321.5 L285.7 326.7 L290.3 331.8 L295 336.9 L299.7 342.1 L304.4 347.2 L309.2 352.4 L314 357.5 L318.9 362.6 L323.7 367.8 L328.6 372.9 L333.5 378 L338.5 383.2 L343.4 388.3 L348.4 393.5 L353.4 398.6 L358.4 403.7 L363.4 408.9 L368.5 414 L373.5 419.2 L378.5 424.3 L383.5 429.4 L388.5 434.6 L393.4 439.7 L398.4 444.8 L403.3 450 L408.2 455.1 L413 460.3 L417.8 465.4 L422.6 470.5 L427.3 475.7 L432 480.8 L436.6 485.9 L441.1 491.1 L445.6 496.2 L450 501.4 L454.4 506.5 L458.7 511.6 L462.9 516.8 L467.1 521.9 L471.2 527.1 L475.2 532.2 L479.1 537.3 L483 542.5 L486.9 547.6 L490.7 552.7 L494.4 557.9 L498 563 L501.6 568.2 L505.1 573.3 L508.5 578.4 L511.8 583.6 L515.1 588.7 L518.3 593.9 L521.4 599 L524.5 604.1 L527.5 609.3 L530.4 614.4 L533.3 619.5 L536.1 624.7 L538.8 629.8 L541.5 635 L544.2 640.1 L546.7 645.2 L549.3 650.4 L551.7 655.5 L554.2 660.6 L556.5 665.8" stroke="#a4a4e6" stroke-width="0.8"/>
<path d="M170.8 49.2 L173.6 54.3 L176.5 59.5 L179.4 64.6 L182.3 69.8 L185.3 74.9 L188.3 80 L191.4 85.2 L194.5 90.3 L197.6 95.4 L200.8 100.6 L204 105.7 L207.2 110.9 L210.5 116 L213.9 121.1 L217.2 126.3 L220.6 131.4 L224.1 136.5 L227.6 141.7 L231.1 146.8 L234.7 152 L238.3 157.1 L242 162.2 L245.6 167.4 L249.4 172.5 L253.2 177.7 L257 182.8 L261 187.9 L265 193.1 L269.1 198.2 L273.2 203.3 L277.3 208.5 L281.5 213.6 L285.7 218.8 L290 223.9 L294.3 229 L298.6 234.2 L303 239.3 L307.4 244.5 L311.9 249.6 L316.4 254.7 L320.9 259.9 L325.5 265 L330.1 270.1 L334.7 275.3 L339.4 280.4 L344.1 285.6 L348.8 290.7 L353.5 295.8 L358.3 301 L363.1 306.1 L367.9 311.2 L372.8 316.4 L377.6 321.5 L382.5 326.7 L387.3 331.8 L392.2 336.9 L397.1 342.1 L402 347.2 L406.9 352.4 L411.7 357.5 L416.6 362.6 L421.4 367.8 L426.2 372.9 L431 378 L435.8 383.2 L440.5 388.3 L445.2 393.5 L449.9 398.6 L454.5 403.7 L459.1 408.9 L463.6 414 L468 419.2 L472.4 424.3 L476.7 429.4 L481 434.6 L485.2 439.7 L489.3 444.8 L493.3 450 L497.3 455.1 L501.1 460.3 L505 465.4 L508.7 470.5 L512.3 475.7 L515.9 480.8 L519.4 485.9 L522.8 491.1 L526.2 496.2 L529.4 501.4 L532.6 506.5 L535.7 511.6 L538.8 516.8 L541.7 521.9 L544.6 527.1 L547.5 532.2 L550.2 537.3 L553 542.5 L555.7 547.6 L558.3 552.7 L560.9 557.9 L563.5 563 L566 568.2 L568.4 573.3 L570.7 578.4 L573.1 583.6 L575.3 588.7 L577.5 593.9 L579.7 599 L581.8 604.1 L583.9 609.3 L585.9 614.4 L587.9 619.5 L589.9 624.7 L591.8 629.8 L593.7 635 L595.5 640.1 L597.3 645.2 L599.1 650.4 L600.8 655.5 L602.5 660.6 L604.2 665.8" stroke="#a4a4e6" stroke-width="0.8"/>
<path d="M244.4 49.2 L247.6 54.3 L250.9 59.5 L254.2 64.6 L257.6 69.8 L261 74.9 L264.4 80 L267.9 85.2 L271.4 90.3 L275 95.4 L278.6 100.6 L282.2 105.7 L285.9 110.9 L289.6 116 L293.4 121.1 L297.2 126.3 L301.1 131.4 L304.9 136.5 L308.9 141.7 L312.8 146.8 L316.9 152 L320.9 157.1 L325 162.2 L329.1 167.4 L333.3 172.5 L337.5 177.7 L341.8 182.8 L346.2 187.9 L350.6 193.1 L355.1 198.2 L359.6 203.3 L364.1 208.5 L368.7 213.6 L373.3 218.8 L377.9 223.9 L382.6 229 L387.3 234.2 L392 239.3 L396.7 244.5 L401.4 249.6 L406.2 254.7 L411 259.9 L415.7 265 L420.5 270.1 L425.3 275.3 L430.1 280.4 L434.9 285.6 L439.6 290.7 L444.4 295.8 L449.1 301 L453.8 306.1 L458.5 311.2 L463.2 316.4 L467.8 321.5 L472.4 326.7 L476.9 331.8 L481.4 336.9 L485.8 342.1 L490.2 347.2 L494.5 352.4 L498.8 357.5 L503 362.6 L507.1 367.8 L511.1 372.9 L515.1 378 L519 383.2 L522.8 388.3 L526.6 393.5 L530.3 398.6 L533.9 403.7 L537.4 408.9 L540.9 414 L544.2 419.2 L547.5 424.3 L550.7 429.4 L553.9 434.6 L556.9 439.7 L559.9 444.8 L562.8 450 L565.6 455.1 L568.4 460.3 L571.1 465.4 L573.7 470.5 L576.2 475.7 L578.7 480.8 L581.2 485.9 L583.5 491.1 L585.8 496.2 L588.1 501.4 L590.3 506.5 L592.4 511.6 L594.5 516.8 L596.5 521.9 L598.5 527.1 L600.4 532.2 L602.3 537.3 L604.2 542.5 L606.1 547.6 L607.9 552.7 L609.7 557.9 L611.5 563 L613.2 568.2 L614.9 573.3 L616.6 578.4 L618.2 583.6 L619.8 588.7 L621.3 593.9 L622.9 599 L624.4 604.1 L625.8 609.3 L627.3 614.4 L628.7 619.5 L630.1 624.7 L631.4 629.8 L632.8 635 L634.1 640.1 L635.4 645.2 L636.7 650.4 L637.9 655.5 L639.2 660.6 L640.4 665.8" stroke="#a4a4e6" stroke-width="0.8"/>
<path d="M318 49.2 L321.6 54.3 L325.3 59.5 L329.1 64.6 L332.8 69.8 L336.6 74.9 L340.5 80 L344.4 85.2 L348.3 90.3 L352.3 95.4 L356.3 100.6 L360.3 105.7 L364.4 110.9 L368.6 116 L372.7 121.1 L376.9 126.3 L381.2 131.4 L385.4 136.5 L389.7 141.7 L394.1 146.8 L398.5 152 L402.9 157.1 L407.3 162.2 L411.7 167.4 L416.2 172.5 L420.7 177.7 L425.3 182.8 L430 187.9 L434.6 193.1 L439.3 198.2 L444 203.3 L448.7 208.5 L453.4 213.6 L458.1 218.8 L462.8 223.9 L467.5 229 L472.2 234.2 L476.8 239.3 L481.4 244.5 L486 249.6 L490.6 254.7 L495.1 259.9 L499.6 265 L504 270.1 L508.4 275.3 L512.7 280.4 L517 285.6 L521.2 290.7 L525.3 295.8 L529.4 301 L533.4 306.1 L537.3 311.2 L541.2 316.4 L544.9 321.5 L548.6 326.7 L552.2 331.8 L555.8 336.9 L559.2 342.1 L562.6 347.2 L565.8 352.4 L569 357.5 L572.2 362.6 L575.2 367.8 L578.2 372.9 L581 378 L583.9 383.2 L586.6 388.3 L589.3 393.5 L591.9 398.6 L594.5 403.7 L597 408.9 L599.4 414 L601.7 419.2 L604 424.3 L606.2 429.4 L608.4 434.6 L610.5 439.7 L612.5 444.8 L614.5 450 L616.4 455.1 L618.3 460.3 L620.1 465.4 L621.9 470.5 L623.7 475.7 L625.4 480.8 L627 485.9 L628.6 491.1 L630.2 496.2 L631.7 501.4 L633.2 506.5 L634.7 511.6 L636.1 516.8 L637.5 521.9 L638.9 527.1 L640.2 532.2 L641.5 537.3 L642.8 542.5 L644.1 547.6 L645.4 552.7 L646.7 557.9 L648 563 L649.2 568.2 L650.4 573.3 L651.6 578.4 L652.7 583.6 L653.9 588.7 L655 593.9 L656.1 599 L657.2 604.1 L658.2 609.3 L659.3 614.4 L660.3 619.5 L661.3 624.7 L662.3 629.8 L663.3 635 L664.3 640.1 L665.2 645.2 L666.2 650.4 L667.1 655.5 L668 660.6 L668.9 665.8" stroke="#a4a4e6" stroke-width="0.8"/>
<path d="M391.6 49.2 L395.7 54.3 L399.7 59.5 L403.8 64.6 L408 69.8 L412.1 74.9 L416.3 80 L420.6 85.2 L424.9 90.3 L429.2 95.4 L433.5 100.6 L437.9 105.7 L442.3 110.9 L446.7 116 L451.1 121.1 L455.6 126.3 L460 131.4 L464.5 136.5 L469 141.7 L473.5 146.8 L478 152 L482.5 157.1 L487 162.2 L491.5 167.4 L496 172.5 L500.5 177.7 L505 182.8 L509.5 187.9 L514 193.1 L518.5 198.2 L522.9 203.3 L527.2 208.5 L531.6 213.6 L535.8 218.8 L540 223.9 L544.2 229 L548.3 234.2 L552.3 239.3 L556.2 244.5 L560.1 249.6 L563.9 254.7 L567.6 259.9 L571.2 265 L574.7 270.1 L578.2 275.3 L581.6 280.4 L584.9 285.6 L588.1 290.7 L591.2 295.8 L594.2 301 L597.2 306.1 L600.1 311.2 L602.9 316.4 L605.6 321.5 L608.3 326.7 L610.8 331.8 L613.3 336.9 L615.7 342.1 L618.1 347.2 L620.4 352.4 L622.6 357.5 L624.8 362.6 L626.9 367.8 L628.9 372.9 L630.9 378 L632.8 383.2 L634.7 388.3 L636.5 393.5 L638.3 398.6 L640 403.7 L641.7 408.9 L643.4 414 L645 419.2 L646.5 424.3 L648 429.4 L649.5 434.6 L650.9 439.7 L652.3 444.8 L653.6 450 L655 455.1 L656.2 460.3 L657.5 465.4 L658.7 470.5 L659.9 475.7 L661 480.8 L662.2 485.9 L663.3 491.1 L664.3 496.2 L665.4 501.4 L666.4 506.5 L667.4 511.6 L668.4 516.8 L669.4 521.9 L670.3 527.1 L671.2 532.2 L672.1 537.3 L673 542.5 L674 547.6 L674.9 552.7 L675.8 557.9 L676.7 563 L677.6 568.2 L678.5 573.3 L679.3 578.4 L680.2 583.6 L681 588.7 L681.8 593.9 L682.6 599 L683.4 604.1 L684.2 609.3 L685 614.4 L685.7 619.5 L686.5 624.7 L687.2 629.8 L688 635 L688.7 640.1 L689.4 645.2 L690.1 650.4 L690.8 655.5 L691.5 660.6 L692.2 665.8" stroke="#a4a4e6" stroke-width="0.8"/>
<path d="M465.2 49.2 L469.6 54.3 L473.9 59.5 L478.3 64.6 L482.6 69.8 L487 74.9 L491.5 80 L495.9 85.2 L500.3 90.3 L504.7 95.4 L509.2 100.6 L513.6 105.7 L518 110.9 L522.4 116 L526.8 121.1 L531.2 126.3 L535.5 131.4 L539.8 136.5 L544.1 141.7 L548.3 146.8 L552.5 152 L556.6 157.1 L560.7 162.2 L564.7 167.4 L568.7 172.5 L572.5 177.7 L576.4 182.8 L580.3 187.9 L584 193.1 L587.7 198.2 L591.3 203.3 L594.9 208.5 L598.3 213.6 L601.7 218.8 L604.9 223.9 L608.1 229 L611.2 234.2 L614.3 239.3 L617.2 244.5 L620.1 249.6 L622.8 254.7 L625.5 259.9 L628.1 265 L630.7 270.1 L633.1 275.3 L635.5 280.4 L637.8 285.6 L640.1 290.7 L642.2 295.8 L644.3 301 L646.4 306.1 L648.4 311.2 L650.3 316.4 L652.1 321.5 L653.9 326.7 L655.7 331.8 L657.4 336.9 L659 342.1 L660.6 347.2 L662.1 352.4 L663.6 357.5 L665 362.6 L666.4 367.8 L667.8 372.9 L669.1 378 L670.4 383.2 L671.7 388.3 L672.9 393.5 L674.1 398.6 L675.3 403.7 L676.4 408.9 L677.5 414 L678.6 419.2 L679.6 424.3 L680.7 429.4 L681.6 434.6 L682.6 439.7 L683.5 444.8 L684.4 450 L685.3 455.1 L686.2 460.3 L687 465.4 L687.9 470.5 L688.7 475.7 L689.4 480.8 L690.2 485.9 L691 491.1 L691.7 496.2 L692.4 501.4 L693.1 506.5 L693.8 511.6 L694.4 516.8 L695.1 521.9 L695.7 527.1 L696.4 532.2 L697 537.3 L697.6 542.5 L698.3 547.6 L699 552.7 L699.6 557.9 L700.3 563 L700.9 568.2 L701.6 573.3 L702.2 578.4 L702.8 583.6 L703.4 588.7 L704 593.9 L704.6 599 L705.2 604.1 L705.7 609.3 L706.3 614.4 L706.9 619.5 L707.4 624.7 L708 629.8 L708.6 635 L709.1 640.1 L709.7 645.2 L710.2 650.4 L710.7 655.5 L711.3 660.6 L711.8 665.8" stroke="#a4a4e6" stroke-width="0.8"/>
<path d="M538.9 49.2 L543.2 54.3 L547.6 59.5 L551.9 64.6 L556.2 69.8 L560.5 74.9 L564.7 80 L568.9 85.2 L573.1 90.3 L577.2 95.4 L581.2 100.6 L585.3 105.7 L589.2 110.9 L593.1 116 L596.9 121.1 L600.6 126.3 L604.3 131.4 L607.9 136.5 L611.4 141.7 L614.8 146.8 L618.2 152 L621.5 157.1 L624.6 162.2 L627.7 167.4 L630.7 172.5 L633.6 177.7 L636.5 182.8 L639.4 187.9 L642.2 193.1 L644.8 198.2 L647.4 203.3 L650 208.5 L652.4 213.6 L654.8 218.8 L657.1 223.9 L659.3 229 L661.5 234.2 L663.5 239.3 L665.5 244.5 L667.5 249.6 L669.4 254.7 L671.2 259.9 L673 265 L674.7 270.1 L676.3 275.3 L677.9 280.4 L679.4 285.6 L680.9 290.7 L682.3 295.8 L683.7 301 L685.1 306.1 L686.4 311.2 L687.6 316.4 L688.9 321.5 L690 326.7 L691.2 331.8 L692.3 336.9 L693.3 342.1 L694.4 347.2 L695.4 352.4 L696.3 357.5 L697.3 362.6 L698.2 367.8 L699.1 372.9 L699.9 378 L700.8 383.2 L701.6 388.3 L702.4 393.5 L703.2 398.6 L703.9 403.7 L704.7 408.9 L705.4 414 L706.1 419.2 L706.8 424.3 L707.4 429.4 L708.1 434.6 L708.7 439.7 L709.3 444.8 L709.9 450 L710.5 455.1 L711 460.3 L711.6 465.4 L712.1 470.5 L712.7 475.7 L713.2 480.8 L713.7 485.9 L714.2 491.1 L714.6 496.2 L715.1 501.4 L715.6 506.5 L716 511.6 L716.4 516.8 L716.9 521.9 L717.3 527.1 L717.7 532.2 L718.1 537.3 L718.6 542.5 L719 547.6 L719.5 552.7 L720 557.9 L720.4 563 L720.9 568.2 L721.3 573.3 L721.8 578.4 L722.2 583.6 L722.7 588.7 L723.1 593.9 L723.5 599 L724 604.1 L724.4 609.3 L724.8 614.4 L725.2 619.5 L725.6 624.7 L726.1 629.8 L726.5 635 L726.9 640.1 L727.3 645.2 L727.7 650.4 L728.1 655.5 L728.5 660.6 L728.9 665.8" stroke="#a4a4e6" stroke-width="0.8"/>
<path d="M612.5 49.2 L616.4 54.3 L620.1 59.5 L623.9 64.6 L627.5 69.8 L631.1 74.9 L634.6 80 L638 85.2 L641.3 90.3 L644.6 95.4 L647.7 100.6 L650.8 105.7 L653.8 110.9 L656.7 116 L659.5 121.1 L662.2 126.3 L664.8 131.4 L667.4 136.5 L669.9 141.7 L672.2 146.8 L674.5 152 L676.7 157.1 L678.9 162.2 L681 167.4 L682.9 172.5 L684.9 177.7 L686.8 182.8 L688.7 187.9 L690.5 193.1 L692.2 198.2 L693.9 203.3 L695.6 208.5 L697.2 213.6 L698.7 218.8 L700.2 223.9 L701.6 229 L702.9 234.2 L704.3 239.3 L705.5 244.5 L706.8 249.6 L707.9 254.7 L709.1 259.9 L710.2 265 L711.2 270.1 L712.3 275.3 L713.3 280.4 L714.2 285.6 L715.1 290.7 L716 295.8 L716.9 301 L717.7 306.1 L718.5 311.2 L719.2 316.4 L720 321.5 L720.7 326.7 L721.4 331.8 L722 336.9 L722.7 342.1 L723.3 347.2 L723.9 352.4 L724.5 357.5 L725 362.6 L725.6 367.8 L726.1 372.9 L726.6 378 L727.1 383.2 L727.6 388.3 L728.1 393.5 L728.6 398.6 L729 403.7 L729.5 408.9 L729.9 414 L730.3 419.2 L730.7 424.3 L731.1 429.4 L731.5 434.6 L731.8 439.7 L732.2 444.8 L732.5 450 L732.9 455.1 L733.2 460.3 L733.5 465.4 L733.8 470.5 L734.1 475.7 L734.4 480.8 L734.7 485.9 L735 491.1 L735.3 496.2 L735.6 501.4 L735.8 506.5 L736.1 511.6 L736.4 516.8 L736.6 521.9 L736.9 527.1 L737.1 532.2 L737.3 537.3 L737.6 542.5 L737.9 547.6 L738.3 552.7 L738.6 557.9 L738.9 563 L739.2 568.2 L739.5 573.3 L739.8 578.4 L740.1 583.6 L740.4 588.7 L740.7 593.9 L741 599 L741.3 604.1 L741.6 609.3 L741.9 614.4 L742.2 619.5 L742.5 624.7 L742.8 629.8 L743.1 635 L743.4 640.1 L743.7 645.2 L744 650.4 L744.3 655.5 L744.6 660.6 L744.9 665.8" stroke="#a4a4e6" stroke-width="0.8"/>
<path d="M353.4 665.8 L353.8 664.8 L354.8 662.3 L355.8 659.8 L356.9 657.2 L357.9 654.6 L359 652 L360 649.4 L361.1 646.7 L362.2 644 L363.3 641.3 L364.4 638.6 L365.5 635.8 L366.6 633 L367.8 630.2 L368.9 627.3 L370.1 624.4 L371.3 621.5 L372.5 618.6 L373.7 615.6 L375 612.5 L376.2 609.5 L377.5 606.4 L378.7 603.2 L380 600.1 L381.4 596.9 L382.7 593.6 L384 590.3 L385.4 587 L386.8 583.6 L388.2 580.2 L389.6 576.7 L391.1 573.2 L392.6 569.6 L394.1 566 L395.6 562.4 L397.1 558.6 L398.7 554.9 L400.3 551.1 L401.9 547.2 L403.5 543.2 L405.2 539.2 L406.9 535.2 L408.6 531.1 L410.3 526.9 L412.1 522.6 L413.9 518.3 L415.8 513.9 L417.7 509.4 L419.6 504.9 L421.5 500.2 L423.5 495.5 L425.5 490.7 L427.6 485.8 L429.7 480.8 L431.9 475.7 L434.1 470.6" stroke="#52a052" stroke-width="1.04" stroke-dasharray="1.04 1.72"/>
<path d="M414.4 665.8 L414.7 664.8 L415.7 662.3 L416.6 659.8 L417.6 657.2 L418.6 654.6 L419.5 652 L420.5 649.4 L421.5 646.7 L422.6 644 L423.6 641.3 L424.6 638.6 L425.7 635.8 L426.7 633 L427.8 630.2 L428.9 627.3 L430 624.4 L431.1 621.5 L432.3 618.6 L433.4 615.6 L434.6 612.5 L435.7 609.5 L436.9 606.4 L438.1 603.2 L439.4 600.1 L440.6 596.9 L441.9 593.6 L443.1 590.3 L444.4 587 L445.7 583.6 L447.1 580.2 L448.4 576.7 L449.8 573.2 L451.2 569.6 L452.6 566 L454 562.4 L455.4 558.6 L456.9 554.9 L458.4 551.1 L459.9 547.2 L461.5 543.2 L463.1 539.2 L464.7 535.2 L466.3 531.1 L467.9 526.9 L469.6 522.6 L471.3 518.3 L473.1 513.9 L474.9 509.4 L476.7 504.9 L478.5 500.2 L480.4 495.5 L482.3 490.7 L484.3 485.8 L486.3 480.8 L488.3 475.7 L490.4 470.6" stroke="#52a052" stroke-width="1.04" stroke-dasharray="1.04 1.72"/>
<path d="M479.9 665.8 L480.3 664.8 L481.1 662.3 L482 659.8 L482.9 657.2 L483.8 654.6 L484.7 652 L485.7 649.4 L486.6 646.7 L487.5 644 L488.5 641.3 L489.4 638.6 L490.4 635.8 L491.4 633 L492.4 630.2 L493.4 627.3 L494.4 624.4 L495.5 621.5 L496.5 618.6 L497.6 615.6 L498.7 612.5 L499.8 609.5 L500.9 606.4 L502 603.2 L503.1 600.1 L504.3 596.9 L505.5 593.6 L506.6 590.3 L507.8 587 L509.1 583.6 L510.3 580.2 L511.6 576.7 L512.8 573.2 L514.1 569.6 L515.4 566 L516.8 562.4 L518.1 558.6 L519.5 554.9 L520.9 551.1 L522.3 547.2 L523.8 543.2 L525.2 539.2 L526.7 535.2 L528.2 531.1 L529.8 526.9 L531.4 522.6 L533 518.3 L534.6 513.9 L536.3 509.4 L538 504.9 L539.7 500.2 L541.5 495.5 L543.3 490.7 L545.1 485.8 L547 480.8 L548.9 475.7 L550.8 470.6" stroke="#52a052" stroke-width="1.04" stroke-dasharray="1.04 1.72"/>
<path d="M520.6 665.8 L520.9 664.8 L521.7 662.3 L522.6 659.8 L523.4 657.2 L524.3 654.6 L525.1 652 L526 649.4 L526.9 646.7 L527.8 644 L528.7 641.3 L529.6 638.6 L530.6 635.8 L531.5 633 L532.4 630.2 L533.4 627.3 L534.4 624.4 L535.4 621.5 L536.4 618.6 L537.4 615.6 L538.4 612.5 L539.4 609.5 L540.5 606.4 L541.6 603.2 L542.7 600.1 L543.7 596.9 L544.9 593.6 L546 590.3 L547.1 587 L548.3 583.6 L549.5 580.2 L550.7 576.7 L551.9 573.2 L553.1 569.6 L554.4 566 L555.6 562.4 L556.9 558.6 L558.2 554.9 L559.6 551.1 L560.9 547.2 L562.3 543.2 L563.7 539.2 L565.1 535.2 L566.6 531.1 L568.1 526.9 L569.6 522.6 L571.1 518.3 L572.7 513.9 L574.3 509.4 L575.9 504.9 L577.6 500.2 L579.2 495.5 L581 490.7 L582.7 485.8 L584.5 480.8 L586.4 475.7 L588.2 470.6" stroke="#52a052" stroke-width="1.04" stroke-dasharray="1.04 1.72"/>
<path d="M550.5 665.8 L550.8 664.8 L551.6 662.3 L552.4 659.8 L553.2 657.2 L554.1 654.6 L554.9 652 L555.7 649.4 L556.6 646.7 L557.4 644 L558.3 641.3 L559.2 638.6 L560.1 635.8 L561 633 L561.9 630.2 L562.8 627.3 L563.8 624.4 L564.7 621.5 L565.7 618.6 L566.6 615.6 L567.6 612.5 L568.6 609.5 L569.6 606.4 L570.7 603.2 L571.7 600.1 L572.8 596.9 L573.8 593.6 L574.9 590.3 L576 587 L577.2 583.6 L578.3 580.2 L579.4 576.7 L580.6 573.2 L581.8 569.6 L583 566 L584.2 562.4 L585.5 558.6 L586.7 554.9 L588 551.1 L589.3 547.2 L590.7 543.2 L592 539.2 L593.4 535.2 L594.8 531.1 L596.2 526.9 L597.7 522.6 L599.2 518.3 L600.7 513.9 L602.2 509.4 L603.8 504.9 L605.4 500.2 L607 495.5 L608.7 490.7 L610.4 485.8 L612.1 480.8 L613.9 475.7 L615.7 470.6" stroke="#52a052" stroke-width="1.04" stroke-dasharray="1.04 1.72"/>
<path d="M574.4 665.8 L574.7 664.8 L575.4 662.3 L576.2 659.8 L577 657.2 L577.8 654.6 L578.6 652 L579.4 649.4 L580.2 646.7 L581 644 L581.9 641.3 L582.7 638.6 L583.6 635.8 L584.5 633 L585.4 630.2 L586.3 627.3 L587.2 624.4 L588.1 621.5 L589 618.6 L590 615.6 L590.9 612.5 L591.9 609.5 L592.9 606.4 L593.9 603.2 L594.9 600.1 L595.9 596.9 L596.9 593.6 L598 590.3 L599 587 L600.1 583.6 L601.2 580.2 L602.3 576.7 L603.5 573.2 L604.6 569.6 L605.8 566 L607 562.4 L608.2 558.6 L609.4 554.9 L610.7 551.1 L611.9 547.2 L613.2 543.2 L614.5 539.2 L615.9 535.2 L617.2 531.1 L618.6 526.9 L620 522.6 L621.5 518.3 L622.9 513.9 L624.4 509.4 L626 504.9 L627.5 500.2 L629.1 495.5 L630.7 490.7 L632.4 485.8 L634.1 480.8 L635.8 475.7 L637.6 470.6" stroke="#52a052" stroke-width="1.04" stroke-dasharray="1.04 1.72"/>
<path d="M603.1 665.8 L603.4 664.8 L604.1 662.3 L604.9 659.8 L605.6 657.2 L606.4 654.6 L607.1 652 L607.9 649.4 L608.7 646.7 L609.5 644 L610.3 641.3 L611.1 638.6 L611.9 635.8 L612.8 633 L613.6 630.2 L614.5 627.3 L615.4 624.4 L616.2 621.5 L617.1 618.6 L618 615.6 L618.9 612.5 L619.9 609.5 L620.8 606.4 L621.8 603.2 L622.7 600.1 L623.7 596.9 L624.7 593.6 L625.7 590.3 L626.8 587 L627.8 583.6 L628.9 580.2 L629.9 576.7 L631 573.2 L632.1 569.6 L633.3 566 L634.4 562.4 L635.6 558.6 L636.7 554.9 L637.9 551.1 L639.2 547.2 L640.4 543.2 L641.7 539.2 L643 535.2 L644.3 531.1 L645.6 526.9 L647 522.6 L648.4 518.3 L649.8 513.9 L651.2 509.4 L652.7 504.9 L654.2 500.2 L655.7 495.5 L657.3 490.7 L658.9 485.8 L660.5 480.8 L662.2 475.7 L663.9 470.6" stroke="#52a052" stroke-width="1.04" stroke-dasharray="1.04 1.72"/>
<path d="M626.4 665.8 L626.6 664.8 L627.4 662.3 L628.1 659.8 L628.8 657.2 L629.5 654.6 L630.3 652 L631 649.4 L631.8 646.7 L632.5 644 L633.3 641.3 L634.1 638.6 L634.9 635.8 L635.7 633 L636.5 630.2 L637.3 627.3 L638.2 624.4 L639 621.5 L639.9 618.6 L640.8 615.6 L641.7 612.5 L642.6 609.5 L643.5 606.4 L644.4 603.2 L645.3 600.1 L646.3 596.9 L647.2 593.6 L648.2 590.3 L649.2 587 L650.2 583.6 L651.2 580.2 L652.3 576.7 L653.3 573.2 L654.4 569.6 L655.5 566 L656.6 562.4 L657.7 558.6 L658.8 554.9 L660 551.1 L661.2 547.2 L662.4 543.2 L663.6 539.2 L664.9 535.2 L666.1 531.1 L667.4 526.9 L668.8 522.6 L670.1 518.3 L671.5 513.9 L672.9 509.4 L674.3 504.9 L675.7 500.2 L677.2 495.5 L678.7 490.7 L680.3 485.8 L681.9 480.8 L683.5 475.7 L685.1 470.6" stroke="#52a052" stroke-width="1.04" stroke-dasharray="1.04 1.72"/>
<path d="M651.9 665.8 L652.2 664.8 L652.8 662.3 L653.5 659.8 L654.2 657.2 L654.9 654.6 L655.6 652 L656.3 649.4 L657.1 646.7 L657.8 644 L658.6 641.3 L659.3 638.6 L660.1 635.8 L660.8 633 L661.6 630.2 L662.4 627.3 L663.2 624.4 L664 621.5 L664.9 618.6 L665.7 615.6 L666.6 612.5 L667.4 609.5 L668.3 606.4 L669.2 603.2 L670.1 600.1 L671 596.9 L671.9 593.6 L672.8 590.3 L673.8 587 L674.8 583.6 L675.7 580.2 L676.7 576.7 L677.8 573.2 L678.8 569.6 L679.8 566 L680.9 562.4 L682 558.6 L683.1 554.9 L684.2 551.1 L685.3 547.2 L686.5 543.2 L687.7 539.2 L688.9 535.2 L690.1 531.1 L691.4 526.9 L692.6 522.6 L693.9 518.3 L695.3 513.9 L696.6 509.4 L698 504.9 L699.4 500.2 L700.8 495.5 L702.3 490.7 L703.8 485.8 L705.3 480.8 L706.9 475.7 L708.5 470.6" stroke="#52a052" stroke-width="1.04" stroke-dasharray="1.04 1.72"/>
<path d="M673.1 665.8 L673.4 664.8 L674.1 662.3 L674.7 659.8 L675.4 657.2 L676.1 654.6 L676.7 652 L677.4 649.4 L678.1 646.7 L678.8 644 L679.6 641.3 L680.3 638.6 L681 635.8 L681.8 633 L682.5 630.2 L683.3 627.3 L684.1 624.4 L684.8 621.5 L685.6 618.6 L686.4 615.6 L687.3 612.5 L688.1 609.5 L688.9 606.4 L689.8 603.2 L690.7 600.1 L691.5 596.9 L692.4 593.6 L693.3 590.3 L694.3 587 L695.2 583.6 L696.1 580.2 L697.1 576.7 L698.1 573.2 L699.1 569.6 L700.1 566 L701.1 562.4 L702.2 558.6 L703.2 554.9 L704.3 551.1 L705.4 547.2 L706.6 543.2 L707.7 539.2 L708.9 535.2 L710.1 531.1 L711.3 526.9 L712.5 522.6 L713.7 518.3 L715 513.9 L716.3 509.4 L717.7 504.9 L719 500.2 L720.4 495.5 L721.8 490.7 L723.3 485.8 L724.8 480.8 L726.3 475.7 L727.9 470.6" stroke="#52a052" stroke-width="1.04" stroke-dasharray="1.04 1.72"/>
<path d="M699.6 665.8 L699.8 664.8 L700.5 662.3 L701.1 659.8 L701.7 657.2 L702.4 654.6 L703 652 L703.7 649.4 L704.3 646.7 L705 644 L705.7 641.3 L706.4 638.6 L707.1 635.8 L707.8 633 L708.5 630.2 L709.2 627.3 L710 624.4 L710.7 621.5 L711.5 618.6 L712.3 615.6 L713 612.5 L713.8 609.5 L714.6 606.4 L715.5 603.2 L716.3 600.1 L717.1 596.9 L718 593.6 L718.8 590.3 L719.7 587 L720.6 583.6 L721.5 580.2 L722.5 576.7 L723.4 573.2 L724.3 569.6 L725.3 566 L726.3 562.4 L727.3 558.6 L728.3 554.9 L729.4 551.1 L730.4 547.2 L731.5 543.2 L732.6 539.2 L733.7 535.2 L734.8 531.1 L736 526.9 L737.2 522.6 L738.4 518.3 L739.6 513.9 L740.9 509.4 L742.2 504.9 L743.5 500.2 L744.8 495.5 L746.2 490.7 L747.6 485.8 L749 480.8 L750.5 475.7 L752 470.6" stroke="#52a052" stroke-width="1.04" stroke-dasharray="1.04 1.72"/>
<path d="M721.5 665.8 L721.8 664.8 L722.4 662.3 L723 659.8 L723.6 657.2 L724.2 654.6 L724.8 652 L725.4 649.4 L726.1 646.7 L726.7 644 L727.4 641.3 L728 638.6 L728.7 635.8 L729.4 633 L730.1 630.2 L730.8 627.3 L731.5 624.4 L732.2 621.5 L732.9 618.6 L733.7 615.6 L734.4 612.5 L735.2 609.5 L736 606.4 L736.7 603.2 L737.5 600.1 L738.3 596.9 L739.2 593.6 L740 590.3 L740.8 587 L741.7 583.6 L742.6 580.2 L743.5 576.7 L744.4 573.2 L745.3 569.6 L746.2 566 L747.2 562.4 L748.1 558.6 L749.1 554.9 L750.1 551.1 L751.1 547.2 L752.2 543.2 L753.2 539.2 L754.3 535.2 L755.4 531.1 L756.5 526.9 L757.7 522.6 L758.8 518.3 L760 513.9 L761.2 509.4 L762.5 504.9 L763.7 500.2 L765 495.5 L766.4 490.7 L767.7 485.8 L769.1 480.8 L770.5 475.7 L771.9 470.6" stroke="#52a052" stroke-width="1.04" stroke-dasharray="1.04 1.72"/>
</g>
<rect x="430.7" y="461" width="6.8" height="8.5" fill="#ffffff"/>
<text x="434.7" y="468.3" font-size="8.33" fill="#5a9c5a" text-anchor="middle">1</text>
<rect x="487" y="461" width="6.8" height="8.5" fill="#ffffff"/>
<text x="491" y="468.3" font-size="8.33" fill="#5a9c5a" text-anchor="middle">2</text>
<rect x="547.4" y="461" width="6.8" height="8.5" fill="#ffffff"/>
<text x="551.4" y="468.3" font-size="8.33" fill="#5a9c5a" text-anchor="middle">4</text>
<rect x="584.8" y="461" width="6.8" height="8.5" fill="#ffffff"/>
<text x="588.8" y="468.3" font-size="8.33" fill="#5a9c5a" text-anchor="middle">6</text>
<rect x="612.3" y="461" width="6.8" height="8.5" fill="#ffffff"/>
<text x="616.3" y="468.3" font-size="8.33" fill="#5a9c5a" text-anchor="middle">8</text>
<rect x="631.5" y="461" width="12.1" height="8.5" fill="#ffffff"/>
<text x="638.2" y="468.3" font-size="8.33" fill="#5a9c5a" text-anchor="middle">10</text>
<rect x="657.8" y="461" width="12.1" height="8.5" fill="#ffffff"/>
<text x="664.5" y="468.3" font-size="8.33" fill="#5a9c5a" text-anchor="middle">13</text>
<rect x="679.1" y="461" width="12.1" height="8.5" fill="#ffffff"/>
<text x="685.7" y="468.3" font-size="8.33" fill="#5a9c5a" text-anchor="middle">16</text>
<rect x="702.4" y="461" width="12.1" height="8.5" fill="#ffffff"/>
<text x="709.1" y="468.3" font-size="8.33" fill="#5a9c5a" text-anchor="middle">20</text>
<rect x="721.8" y="461" width="12.1" height="8.5" fill="#ffffff"/>
<text x="728.5" y="468.3" font-size="8.33" fill="#5a9c5a" text-anchor="middle">24</text>
<rect x="745.9" y="461" width="12.1" height="8.5" fill="#ffffff"/>
<text x="752.6" y="468.3" font-size="8.33" fill="#5a9c5a" text-anchor="middle">30</text>
<rect x="765.9" y="461" width="12.1" height="8.5" fill="#ffffff"/>
<text x="772.5" y="468.3" font-size="8.33" fill="#5a9c5a" text-anchor="middle">36</text>
<g clip-path="url(#cm)" fill="none" stroke-linejoin="round">
<path d="M503.4 49.4 L475.2 106.3 L462.1 155.1 L439.4 196.1 L404.5 230.3 L356.6 260.9 L338.4 288.7 L346.5 313.7 L357.8 337 L368 357.4 L394 394 L417.4 427 L432 454 L444.2 478.4 L453.8 506.2 L459.5 530 L462.4 543.5 L463.4 558.5 L458.1 576 L448 590.6 L445.7 600.9 L453.8 612 L474.1 630.2 L484.8 638.1 L490.2 644.5 L502.4 650.1" stroke="#0000ff" stroke-width="1.1"/>
<path d="M290.9 49.4 L262 107 L245.3 155.1 L238.2 194.5 L249.5 230.3 L289.1 260.9 L291.2 289.1 L296.1 313.7 L305.1 336 L353.7 393.8 L366.5 412 L370 427 L367.6 442.6 L357.5 456.3 L358.2 470.4 L364.4 482.5 L373.6 495.3 L378.5 506 L377.2 518.2 L373.6 528.4 L365 539.1 L352.2 548.8 L333.6 558 L303 567.4 L206.7 584.5 L353.3 601.2 L390.7 608.8 L395.4 616.7 L422.8 629.1 L448 637.6 L448.9 644.1 L464.5 650.5" stroke="#089a08" stroke-width="2.8"/>
<path d="M506.2 49.4 L478 106.3 L464.9 155.1 L442 196.1 L406.3 230.3 L357.5 260.9 L339.4 288.7 L347.5 313.7 L357.5 336 L369.3 357.4 L442 454.9 L460.9 482.7 L480.5 529.7 L495.5 558.5 L497.6 576 L471.6 601.7 L472.4 608.8 L491.2 624.8 L504.1 635.5 L516.9 644.1 L530.8 650.5" stroke="#ff0000" stroke-width="2.8"/>
<line x1="328.6" y1="665.8" x2="776.5" y2="48.2" stroke="#1a1a1a" stroke-width="1.1" stroke-dasharray="8.3 4"/>
<line x1="470.4" y1="665.8" x2="918.3" y2="48.2" stroke="#1a1a1a" stroke-width="1.1" stroke-dasharray="8.3 4"/>
</g>
<text x="463.4" y="661" font-size="10.4" font-weight="bold" fill="#089a08" text-anchor="middle">27F</text>
<text x="529.7" y="661" font-size="10.4" font-weight="bold" fill="#ff0000" text-anchor="middle">44F</text>
<rect x="188.5" y="49.5" width="638" height="616" fill="none" stroke="#000" stroke-width="1.3"/>
<path d="M188.5 665.5v5.4M188.5 49.5v-5.4M259.5 665.5v5.4M259.5 49.5v-5.4M330.5 665.5v5.4M330.5 49.5v-5.4M401.5 665.5v5.4M401.5 49.5v-5.4M472.5 665.5v5.4M472.5 49.5v-5.4M542.5 665.5v5.4M542.5 49.5v-5.4M613.5 665.5v5.4M613.5 49.5v-5.4M684.5 665.5v5.4M684.5 49.5v-5.4M755.5 665.5v5.4M755.5 49.5v-5.4M826.5 665.5v5.4M826.5 49.5v-5.4M188.5 49.5h-5.4M826.5 49.5h5.4M188.5 155.5h-5.4M826.5 155.5h5.4M188.5 230.5h-5.4M826.5 230.5h5.4M188.5 289.5h-5.4M826.5 289.5h5.4M188.5 336.5h-5.4M826.5 336.5h5.4M188.5 377.5h-5.4M826.5 377.5h5.4M188.5 412.5h-5.4M826.5 412.5h5.4M188.5 442.5h-5.4M826.5 442.5h5.4M188.5 470.5h-5.4M826.5 470.5h5.4M188.5 495.5h-5.4M826.5 495.5h5.4M188.5 518.5h-5.4M826.5 518.5h5.4M188.5 539.5h-5.4M826.5 539.5h5.4M188.5 558.5h-5.4M826.5 558.5h5.4M188.5 576.5h-5.4M826.5 576.5h5.4M188.5 593.5h-5.4M826.5 593.5h5.4M188.5 609.5h-5.4M826.5 609.5h5.4M188.5 624.5h-5.4M826.5 624.5h5.4M188.5 638.5h-5.4M826.5 638.5h5.4M188.5 652.5h-5.4M826.5 652.5h5.4M188.5 665.5h-5.4M826.5 665.5h5.4" stroke="#000" stroke-width="1.1" fill="none"/>
<text x="188.5" y="684.9" font-size="13.89" text-anchor="middle">−40</text>
<text x="259.4" y="684.9" font-size="13.89" text-anchor="middle">−30</text>
<text x="330.3" y="684.9" font-size="13.89" text-anchor="middle">−20</text>
<text x="401.2" y="684.9" font-size="13.89" text-anchor="middle">−10</text>
<text x="472.1" y="684.9" font-size="13.89" text-anchor="middle">0</text>
<text x="542.9" y="684.9" font-size="13.89" text-anchor="middle">10</text>
<text x="613.8" y="684.9" font-size="13.89" text-anchor="middle">20</text>
<text x="684.7" y="684.9" font-size="13.89" text-anchor="middle">30</text>
<text x="755.6" y="684.9" font-size="13.89" text-anchor="middle">40</text>
<text x="826.5" y="684.9" font-size="13.89" text-anchor="middle">50</text>
<text x="177.6" y="53.6" font-size="13.89" text-anchor="end">100</text>
<text x="177.6" y="235.1" font-size="13.89" text-anchor="end">200</text>
<text x="177.6" y="341.2" font-size="13.89" text-anchor="end">300</text>
<text x="177.6" y="416.5" font-size="13.89" text-anchor="end">400</text>
<text x="177.6" y="475" font-size="13.89" text-anchor="end">500</text>
<text x="177.6" y="522.7" font-size="13.89" text-anchor="end">600</text>
<text x="177.6" y="563" font-size="13.89" text-anchor="end">700</text>
<text x="177.6" y="598" font-size="13.89" text-anchor="end">800</text>
<text x="177.6" y="628.8" font-size="13.89" text-anchor="end">900</text>
<text x="177.6" y="656.4" font-size="13.89" text-anchor="end">1000</text>
<text x="506.6" y="706" font-size="16.67" text-anchor="middle">Temperature (°C)</text>
<text transform="translate(133.3 357.4) rotate(-90)" font-size="16.67" text-anchor="middle">Pressure (hPa)</text>
<text x="507.4" y="39.6" font-size="13.89" font-weight="bold" text-anchor="middle">HRRR Sounding at KDKB Init: 14z Apr 20 [F001] valid 15z Apr 20 2026</text>
<rect x="42.6" y="63.5" width="127.7" height="96.8" rx="2.5" ry="2.5" fill="#ffffff" fill-opacity="0.8" stroke="#cccccc" stroke-width="1"/>
<line x1="46.8" y1="72.4" x2="70.2" y2="72.4" stroke="#52a052" stroke-width="1.04" stroke-dasharray="1.04 1.72"/>
<text x="78.7" y="75.7" font-size="11">Sat. Mix. Ratio</text>
<line x1="46.8" y1="87.4" x2="70.2" y2="87.4" stroke="#d48686" stroke-width="0.8"/>
<text x="78.7" y="90.7" font-size="11">Dry Adiabats</text>
<line x1="46.8" y1="103.4" x2="70.2" y2="103.4" stroke="#a4a4e6" stroke-width="0.8"/>
<text x="78.7" y="106.8" font-size="11">Pseudoadiabats</text>
<line x1="46.8" y1="119.4" x2="70.2" y2="119.4" stroke="#0000ff" stroke-width="1.1"/>
<text x="78.7" y="121.9" font-size="11">Wetbulb</text>
<line x1="46.8" y1="134.3" x2="70.2" y2="134.3" stroke="#089a08" stroke-width="2.8" stroke-linecap="square"/>
<text x="78.7" y="137.5" font-size="11">Dewpoint</text>
<line x1="46.8" y1="150.4" x2="70.2" y2="150.4" stroke="#ff0000" stroke-width="2.8" stroke-linecap="square"/>
<text x="78.7" y="153.4" font-size="11">Temperature</text>
<g>
<path d="M857.1 56.2 L837.5 40.6" stroke="#000" stroke-width="1.1" fill="none"/><path d="M837.5 40.6 L841.3 30.8" stroke="#000" stroke-width="1.1" fill="none"/><path d="M840 42.5 L843.8 32.8" stroke="#000" stroke-width="1.1" fill="none"/><path d="M842.4 44.5 L846.2 34.7" stroke="#000" stroke-width="1.1" fill="none"/><path d="M844.9 46.4 L848.7 36.7" stroke="#000" stroke-width="1.1" fill="none"/><path d="M847.3 48.4 L849.2 43.5" stroke="#000" stroke-width="1.1" fill="none"/>
<path d="M857.1 114.6 L837.5 99.1" stroke="#000" stroke-width="1.1" fill="none"/><path d="M837.5 99.1 L846.1 93.2 L842.4 102.9Z" fill="#000" stroke="#000" stroke-width="0.9" stroke-linejoin="miter"/><path d="M844.8 104.9 L848.6 95.1" stroke="#000" stroke-width="1.1" fill="none"/>
<path d="M857.7 161.5 L836.9 147.6" stroke="#000" stroke-width="1.1" fill="none"/><path d="M836.9 147.6 L845.1 141 L842.1 151.1Z" fill="#000" stroke="#000" stroke-width="0.9" stroke-linejoin="miter"/><path d="M844.7 152.8 L847.7 142.8" stroke="#000" stroke-width="1.1" fill="none"/><path d="M847.3 154.6 L848.8 149.5" stroke="#000" stroke-width="1.1" fill="none"/>
<path d="M856.7 203.1 L837.9 186.7" stroke="#000" stroke-width="1.1" fill="none"/><path d="M837.9 186.7 L846.8 181.2 L842.6 190.8Z" fill="#000" stroke="#000" stroke-width="0.9" stroke-linejoin="miter"/><path d="M844.9 192.9 L849.2 183.3" stroke="#000" stroke-width="1.1" fill="none"/>
<path d="M854.7 239.9 L839.9 219.8" stroke="#000" stroke-width="1.1" fill="none"/><path d="M839.9 219.8 L849.8 216.4 L843.6 224.8Z" fill="#000" stroke="#000" stroke-width="0.9" stroke-linejoin="miter"/><path d="M845.4 227.3 L851.7 218.9" stroke="#000" stroke-width="1.1" fill="none"/>
<path d="M853.2 271.7 L841.4 249.7" stroke="#000" stroke-width="1.1" fill="none"/><path d="M841.4 249.7 L851.7 247.7 L844.4 255.2Z" fill="#000" stroke="#000" stroke-width="0.9" stroke-linejoin="miter"/><path d="M845.8 257.9 L853.2 250.5" stroke="#000" stroke-width="1.1" fill="none"/><path d="M847.3 260.7 L854.7 253.3" stroke="#000" stroke-width="1.1" fill="none"/><path d="M848.8 263.5 L856.1 256" stroke="#000" stroke-width="1.1" fill="none"/>
<path d="M852.3 299.7 L842.3 276.8" stroke="#000" stroke-width="1.1" fill="none"/><path d="M842.3 276.8 L852.7 275.7 L844.8 282.6Z" fill="#000" stroke="#000" stroke-width="0.9" stroke-linejoin="miter"/><path d="M846 285.4 L853.9 278.5" stroke="#000" stroke-width="1.1" fill="none"/><path d="M847.3 288.3 L855.2 281.4" stroke="#000" stroke-width="1.1" fill="none"/><path d="M848.6 291.1 L856.5 284.3" stroke="#000" stroke-width="1.1" fill="none"/><path d="M849.8 294 L853.8 290.6" stroke="#000" stroke-width="1.1" fill="none"/>
<path d="M852.7 324.5 L841.9 302" stroke="#000" stroke-width="1.1" fill="none"/><path d="M841.9 302 L852.3 300.5 L844.6 307.6Z" fill="#000" stroke="#000" stroke-width="0.9" stroke-linejoin="miter"/><path d="M845.9 310.4 L853.6 303.3" stroke="#000" stroke-width="1.1" fill="none"/><path d="M847.3 313.2 L855 306.1" stroke="#000" stroke-width="1.1" fill="none"/><path d="M848.7 316.1 L856.3 308.9" stroke="#000" stroke-width="1.1" fill="none"/><path d="M850 318.9 L853.8 315.3" stroke="#000" stroke-width="1.1" fill="none"/>
<path d="M853.6 346.8 L841 325.2" stroke="#000" stroke-width="1.1" fill="none"/><path d="M841 325.2 L851.2 322.9 L844.1 330.6Z" fill="#000" stroke="#000" stroke-width="0.9" stroke-linejoin="miter"/><path d="M845.7 333.3 L852.8 325.6" stroke="#000" stroke-width="1.1" fill="none"/><path d="M847.3 336 L854.4 328.3" stroke="#000" stroke-width="1.1" fill="none"/><path d="M848.9 338.7 L855.9 331" stroke="#000" stroke-width="1.1" fill="none"/>
<path d="M854 367.5 L840.6 346.4" stroke="#000" stroke-width="1.1" fill="none"/><path d="M840.6 346.4 L850.7 343.7 L843.9 351.7Z" fill="#000" stroke="#000" stroke-width="0.9" stroke-linejoin="miter"/><path d="M845.6 354.3 L852.4 346.3" stroke="#000" stroke-width="1.1" fill="none"/><path d="M847.3 357 L854.1 349" stroke="#000" stroke-width="1.1" fill="none"/>
<path d="M854.5 386.6 L840.1 366.2" stroke="#000" stroke-width="1.1" fill="none"/><path d="M840.1 366.2 L850 362.9 L843.7 371.3Z" fill="#000" stroke="#000" stroke-width="0.9" stroke-linejoin="miter"/><path d="M845.5 373.8 L851.8 365.5" stroke="#000" stroke-width="1.1" fill="none"/><path d="M847.3 376.4 L853.6 368" stroke="#000" stroke-width="1.1" fill="none"/>
<path d="M854.6 404.5 L840 384.3" stroke="#000" stroke-width="1.1" fill="none"/><path d="M840 384.3 L849.9 381 L843.6 389.4Z" fill="#000" stroke="#000" stroke-width="0.9" stroke-linejoin="miter"/><path d="M845.5 391.9 L851.7 383.5" stroke="#000" stroke-width="1.1" fill="none"/><path d="M847.3 394.4 L850.4 390.2" stroke="#000" stroke-width="1.1" fill="none"/>
<path d="M854.7 421.4 L839.9 401.2" stroke="#000" stroke-width="1.1" fill="none"/><path d="M839.9 401.2 L849.9 397.9 L843.6 406.3Z" fill="#000" stroke="#000" stroke-width="0.9" stroke-linejoin="miter"/><path d="M845.5 408.8 L851.7 400.4" stroke="#000" stroke-width="1.1" fill="none"/><path d="M847.3 411.3 L850.4 407.1" stroke="#000" stroke-width="1.1" fill="none"/>
<path d="M855.4 451.7 L839.2 432.6" stroke="#000" stroke-width="1.1" fill="none"/><path d="M839.2 432.6 L848.9 428.6 L843.3 437.4Z" fill="#000" stroke="#000" stroke-width="0.9" stroke-linejoin="miter"/><path d="M845.3 439.8 L850.9 430.9" stroke="#000" stroke-width="1.1" fill="none"/>
<path d="M855.3 479.3 L839.3 460.2" stroke="#000" stroke-width="1.1" fill="none"/><path d="M839.3 460.2 L848.9 456.1 L843.3 465Z" fill="#000" stroke="#000" stroke-width="0.9" stroke-linejoin="miter"/>
<path d="M855.5 504.1 L839.1 485.3" stroke="#000" stroke-width="1.1" fill="none"/><path d="M839.1 485.3 L848.7 481.1 L843.2 490Z" fill="#000" stroke="#000" stroke-width="0.9" stroke-linejoin="miter"/>
<path d="M856 526.4 L838.6 508.5" stroke="#000" stroke-width="1.1" fill="none"/><path d="M838.6 508.5 L843.5 499.3" stroke="#000" stroke-width="1.1" fill="none"/><path d="M840.7 510.8 L845.7 501.6" stroke="#000" stroke-width="1.1" fill="none"/><path d="M842.9 513 L847.9 503.8" stroke="#000" stroke-width="1.1" fill="none"/><path d="M845.1 515.2 L850.1 506" stroke="#000" stroke-width="1.1" fill="none"/><path d="M847.3 517.5 L849.8 512.9" stroke="#000" stroke-width="1.1" fill="none"/>
<path d="M856.3 547.2 L838.3 529.7" stroke="#000" stroke-width="1.1" fill="none"/><path d="M838.3 529.7 L843.1 520.4" stroke="#000" stroke-width="1.1" fill="none"/><path d="M840.6 531.9 L845.3 522.6" stroke="#000" stroke-width="1.1" fill="none"/><path d="M842.8 534.1 L847.5 524.7" stroke="#000" stroke-width="1.1" fill="none"/><path d="M845.1 536.3 L849.8 526.9" stroke="#000" stroke-width="1.1" fill="none"/>
<path d="M856.2 566.6 L838.4 549.1" stroke="#000" stroke-width="1.1" fill="none"/><path d="M838.4 549.1 L843.2 539.7" stroke="#000" stroke-width="1.1" fill="none"/><path d="M840.6 551.2 L845.4 541.9" stroke="#000" stroke-width="1.1" fill="none"/><path d="M842.9 553.4 L847.7 544.1" stroke="#000" stroke-width="1.1" fill="none"/><path d="M845.1 555.6 L847.5 551" stroke="#000" stroke-width="1.1" fill="none"/>
<path d="M856 584.9 L838.6 566.9" stroke="#000" stroke-width="1.1" fill="none"/><path d="M838.6 566.9 L843.7 557.7" stroke="#000" stroke-width="1.1" fill="none"/><path d="M840.8 569.1 L845.8 560" stroke="#000" stroke-width="1.1" fill="none"/><path d="M843 571.4 L848 562.2" stroke="#000" stroke-width="1.1" fill="none"/>
<path d="M854.8 602.8 L839.8 582.8" stroke="#000" stroke-width="1.1" fill="none"/><path d="M839.8 582.8 L846 574.3" stroke="#000" stroke-width="1.1" fill="none"/><path d="M841.7 585.3 L844.8 581" stroke="#000" stroke-width="1.1" fill="none"/>
<path d="M838.2 622.2 L856.4 639.4" stroke="#000" stroke-width="1.1" fill="none"/><path d="M853 636.2 L850.7 640.9" stroke="#000" stroke-width="1.1" fill="none"/>
<path d="M837.1 644 L857.5 658.5" stroke="#000" stroke-width="1.1" fill="none"/><path d="M853.7 655.7 L852 660.7" stroke="#000" stroke-width="1.1" fill="none"/>
<circle cx="847" cy="609.2" r="3.8" fill="none" stroke="#000" stroke-width="1.1"/>
</g>
<g>
<g clip-path="url(#co)">
<rect x="38" y="45.6" width="2" height="6.4" fill="#f2e600"/>
<rect x="38" y="104" width="3" height="6.4" fill="#f2e600"/>
<rect x="38" y="151.8" width="4.4" height="6.4" fill="#f2e600"/>
<rect x="38" y="192.1" width="3" height="6.4" fill="#f2e600"/>
<rect x="38" y="227.1" width="2" height="6.4" fill="#f2e600"/>
<rect x="38" y="257.9" width="2" height="6.4" fill="#f2e600"/>
<rect x="38" y="285.5" width="2" height="6.4" fill="#f2e600"/>
<rect x="38" y="310.4" width="1.2" height="6.4" fill="#f2e600"/>
<rect x="36.8" y="333.2" width="1.2" height="6.4" fill="#707070"/>
<rect x="38" y="373.6" width="2" height="6.4" fill="#f2e600"/>
<rect x="38" y="391.6" width="1.2" height="6.4" fill="#f2e600"/>
<rect x="38" y="408.5" width="1.2" height="6.4" fill="#f2e600"/>
<rect x="38" y="439.4" width="1.2" height="6.4" fill="#f2e600"/>
<rect x="38" y="467" width="1.2" height="6.4" fill="#f2e600"/>
<rect x="38" y="479.7" width="1.2" height="6.4" fill="#f2e600"/>
<rect x="38" y="491.9" width="1.2" height="6.4" fill="#f2e600"/>
<rect x="36.8" y="503.5" width="1.2" height="6.4" fill="#707070"/>
<rect x="36.8" y="525.4" width="1.2" height="6.4" fill="#707070"/>
<rect x="36.8" y="535.6" width="1.2" height="6.4" fill="#707070"/>
<rect x="36.8" y="545.5" width="1.2" height="6.4" fill="#707070"/>
<rect x="36" y="555" width="2" height="6.4" fill="#707070"/>
<rect x="36" y="564.2" width="2" height="6.4" fill="#707070"/>
<rect x="36.8" y="573.1" width="1.2" height="6.4" fill="#707070"/>
<rect x="36.8" y="581.7" width="1.2" height="6.4" fill="#707070"/>
<rect x="38" y="590" width="1.2" height="6.4" fill="#f2e600"/>
<rect x="38" y="598.1" width="1.2" height="6.4" fill="#f2e600"/>
<rect x="38" y="605.9" width="1.2" height="6.4" fill="#f2e600"/>
<rect x="36.8" y="613.5" width="1.2" height="6.4" fill="#707070"/>
<rect x="36" y="620.8" width="2" height="6.4" fill="#707070"/>
<rect x="36" y="628" width="2" height="6.4" fill="#707070"/>
<rect x="36.8" y="635" width="1.2" height="6.4" fill="#707070"/>
</g>
<line x1="23.4" y1="495.4" x2="98.8" y2="495.4" stroke="#ff0000" stroke-width="2.6" stroke-dasharray="7.2 4"/>
<line x1="23.4" y1="532.3" x2="98.8" y2="532.3" stroke="#ff0000" stroke-width="2.6" stroke-dasharray="7.2 4"/>
<text x="99.9" y="490.6" font-size="10.4" font-weight="bold" fill="#ff0000" text-anchor="end">DGZ</text>
<text x="99.9" y="545.1" font-size="10.4" font-weight="bold" fill="#ff0000" text-anchor="end">DGZ</text>
<path d="M38.6 665.2v4.9M69.4 665.2v4.9M100.3 665.2v4.9" stroke="#000" stroke-width="1.1"/>
<text x="38.6" y="682" font-size="10.42" text-anchor="middle">0</text>
<text x="69.4" y="682" font-size="10.42" text-anchor="middle">−1</text>
<text x="100.3" y="682" font-size="10.42" text-anchor="middle">−2</text>
<text x="70.2" y="702.7" font-size="13.89" text-anchor="middle">Omega (Pa/s)</text>
</g>
<text x="986.8" y="36.1" font-size="15.2" font-weight="bold" fill="#808080" text-anchor="middle">TROPICALTIDBITS.COM</text>
<g clip-path="url(#ch)" fill="none">
<ellipse cx="930.6" cy="70.3" rx="24.4" ry="20.8" stroke="#9c9c9c" stroke-width="0.75" stroke-dasharray="0.75 1.35"/>
<ellipse cx="930.6" cy="70.3" rx="48.8" ry="41.6" stroke="#9c9c9c" stroke-width="0.75" stroke-dasharray="0.75 1.35"/>
<ellipse cx="930.6" cy="70.3" rx="73.2" ry="62.4" stroke="#9c9c9c" stroke-width="0.75" stroke-dasharray="0.75 1.35"/>
<ellipse cx="930.6" cy="70.3" rx="97.6" ry="83.2" stroke="#9c9c9c" stroke-width="0.75" stroke-dasharray="0.75 1.35"/>
<ellipse cx="930.6" cy="70.3" rx="122" ry="104" stroke="#9c9c9c" stroke-width="0.75" stroke-dasharray="0.75 1.35"/>
<ellipse cx="930.6" cy="70.3" rx="146.4" ry="124.8" stroke="#9c9c9c" stroke-width="0.75" stroke-dasharray="0.75 1.35"/>
<ellipse cx="930.6" cy="70.3" rx="170.8" ry="145.6" stroke="#9c9c9c" stroke-width="0.75" stroke-dasharray="0.75 1.35"/>
<ellipse cx="930.6" cy="70.3" rx="195.2" ry="166.4" stroke="#9c9c9c" stroke-width="0.75" stroke-dasharray="0.75 1.35"/>
<ellipse cx="930.6" cy="70.3" rx="219.6" ry="187.2" stroke="#9c9c9c" stroke-width="0.75" stroke-dasharray="0.75 1.35"/>
<line x1="876.5" y1="70.3" x2="1096.5" y2="70.3" stroke="#000" stroke-width="0.9"/>
<line x1="930.6" y1="49.4" x2="930.6" y2="237.3" stroke="#000" stroke-width="0.9"/>
</g>
<text x="904.7" y="86.8" font-size="10.42" fill="#808080" text-anchor="middle">10</text>
<text x="953.6" y="86.8" font-size="10.42" fill="#808080" text-anchor="middle">10</text>
<text x="978.6" y="86.8" font-size="10.42" fill="#808080" text-anchor="middle">20</text>
<text x="1003.2" y="86.8" font-size="10.42" fill="#808080" text-anchor="middle">30</text>
<text x="1027.4" y="86.8" font-size="10.42" fill="#808080" text-anchor="middle">40</text>
<text x="1052.3" y="86.8" font-size="10.42" fill="#808080" text-anchor="middle">50</text>
<text x="1076.5" y="86.8" font-size="10.42" fill="#808080" text-anchor="middle">60</text>
<g clip-path="url(#ch)" fill="none" stroke-linecap="butt" stroke-linejoin="round">
<path d="M925.7 65.2 L930 71 L933 75.6 L936.4 80.1 L941.5 85.4 L947.1 90.3 L954 96.2 L961 102" stroke="#ff0000" stroke-width="2.2"/>
<path d="M967.5 106.5 L979.2 114.4 L986.5 118.6 L994.1 122.9" stroke="#ff0000" stroke-width="2.2"/>
<path d="M1000.2 127.8 L1001.2 131.5 L1002.5 136.2 L1003.8 141.5 L1005.3 146.5 L1008.1 151.2 L1014.7 159.1" stroke="#228b22" stroke-width="2.2"/>
<path d="M1020.8 166.8 L1023 171 L1024.6 175.6 L1026.1 186.8 L1026.1 198 L1025 208.4" stroke="#b22fb2" stroke-width="2.2"/>
<path d="M1022.1 220.2 L1018.4 229.9 L1012.8 237.4 L1012 239 L1012.8 237.4 L1017.5 216.8 L1019.3 194.3 L1020.3 174.6" stroke="#0000ff" stroke-width="2.2"/>
</g>
<rect x="919.1" y="56.8" width="7" height="9" fill="#ffffff"/>
<text x="922.6" y="65" font-size="10.42" text-anchor="middle">1</text>
<rect x="960.7" y="98.6" width="7" height="9" fill="#ffffff"/>
<text x="964.2" y="106.8" font-size="10.42" text-anchor="middle">2</text>
<rect x="993.6" y="118.9" width="7" height="9" fill="#ffffff"/>
<text x="997.1" y="127.1" font-size="10.42" text-anchor="middle">3</text>
<rect x="1014.9" y="156.9" width="7" height="9" fill="#ffffff"/>
<text x="1018.4" y="165.1" font-size="10.42" text-anchor="middle">6</text>
<rect x="1019.9" y="209.1" width="7" height="9" fill="#ffffff"/>
<text x="1023.4" y="217.3" font-size="10.42" text-anchor="middle">9</text>
<ellipse cx="990.4" cy="81.5" rx="8.4" ry="7.4" fill="none" stroke="#000" stroke-width="1.3"/>
<text x="985.7" y="84.6" font-size="8.33" textLength="9.8" lengthAdjust="spacingAndGlyphs">LM</text>
<ellipse cx="936.1" cy="121.1" rx="8.4" ry="7.4" fill="none" stroke="#000" stroke-width="1.3"/>
<text x="930.7" y="124.2" font-size="8.33" textLength="10.8" lengthAdjust="spacingAndGlyphs">RM</text>
<rect x="876.5" y="49.4" width="220" height="187.9" fill="none" stroke="#000" stroke-width="1.1"/>
<text x="985.5" y="250.5" font-size="11.11" text-anchor="middle">Hodograph (wind in kt, height in km)</text>
<text class="m" x="877.2" y="285.8" fill="#000000" xml:space="preserve">SRH 0-1km:        5</text>
<text x="1043.8" y="285.8" font-size="13.89" font-style="italic" fill="#000">m<tspan font-size="9.9" dy="-5.3" dx="0.6">2</tspan><tspan dy="5.3" dx="1.2">s</tspan><tspan font-size="9.9" dy="-5.3" dx="0.6" font-style="normal">−2</tspan></text>
<text class="m" x="877.2" y="302.5" fill="#000000" xml:space="preserve">SRH 0-3km:      148</text>
<text x="1043.8" y="302.5" font-size="13.89" font-style="italic" fill="#000">m<tspan font-size="9.9" dy="-5.3" dx="0.6">2</tspan><tspan dy="5.3" dx="1.2">s</tspan><tspan font-size="9.9" dy="-5.3" dx="0.6" font-style="normal">−2</tspan></text>
<text class="m" x="876.4" y="321.8" fill="#d62f37" xml:space="preserve">SBCAPE:           5 J/kg</text>
<text class="m" x="876.4" y="338.7" fill="#000000" xml:space="preserve">MLCAPE:           0 J/kg</text>
<text class="m" x="876.4" y="356.3" fill="#000000" xml:space="preserve">MUCAPE:           0 J/kg</text>
<text class="m" x="876.4" y="373.8" fill="#000000" xml:space="preserve">SBCIN:            0 J/kg</text>
<text class="m" x="876.4" y="392" fill="#000000" xml:space="preserve">MLCIN:            0 J/kg</text>
<text class="m" x="876.4" y="409.2" fill="#2f2fd0" xml:space="preserve">DCAPE:          190 J/kg</text>
<text class="m" x="876.4" y="426.8" fill="#a52a2a" xml:space="preserve">SHR 200-850mb:   64 kt</text>
<text class="m" x="876.4" y="444.2" fill="#8b5a14" xml:space="preserve">RH 300-850mb:    29 %</text>
<text class="m" x="876.4" y="462.2" fill="#000000" xml:space="preserve">PWAT:          0.20 in</text>
<rect x="892.5" y="500.5" width="204" height="165" fill="none" stroke="#000" stroke-width="1.1"/>
<text x="902.2" y="525.8" font-size="10.42">400</text>
<text x="902.2" y="570" font-size="10.42">600</text>
<text x="902.2" y="613.6" font-size="10.42">800</text>
<text x="924.4" y="655.9" font-size="10.42" text-anchor="middle">280</text>
<text x="968.4" y="655.9" font-size="10.42" text-anchor="middle">290</text>
<text x="1012.8" y="655.9" font-size="10.42" text-anchor="middle">300</text>
<text x="1057.1" y="655.9" font-size="10.42" text-anchor="middle">310</text>
<path d="M892.5 522.5h5.4M892.5 566.5h5.4M892.5 609.5h5.4M892.5 654.5h5.4M924.5 665.5v-5.4M968.5 665.5v-5.4M1012.5 665.5v-5.4M1057.5 665.5v-5.4" stroke="#000" stroke-width="1.1" fill="none"/>
<path d="M1080.6 500.6 L1073.2 505.9 L1065.9 515.3 L1057.1 527.6 L1048.2 537.4 L1036.5 550.6 L1024.7 560.9 L1012.9 570.6 L1002.6 580 L993.8 587.4 L983.5 593.2 L973.2 598.5 L961.5 602.9 L948.2 608.8 L940.9 614.7 L940.3 621.2 L941.8 627.1 L945.3 633.5 L948.2 638.2 L953.5 642.4 L955.6 648.2 L965.9 652.6" stroke="#2e98b6" stroke-width="2.7" fill="none" stroke-linejoin="round" stroke-linecap="square" clip-path="url(#ct)"/>
<text x="993.3" y="678.1" font-size="11.11" text-anchor="middle">Equivalent Pot. Temperature (K)</text>
<text transform="translate(884.6 583) rotate(-90)" font-size="11.11" text-anchor="middle">Pressure (hPa)</text>
</svg></body></html>
